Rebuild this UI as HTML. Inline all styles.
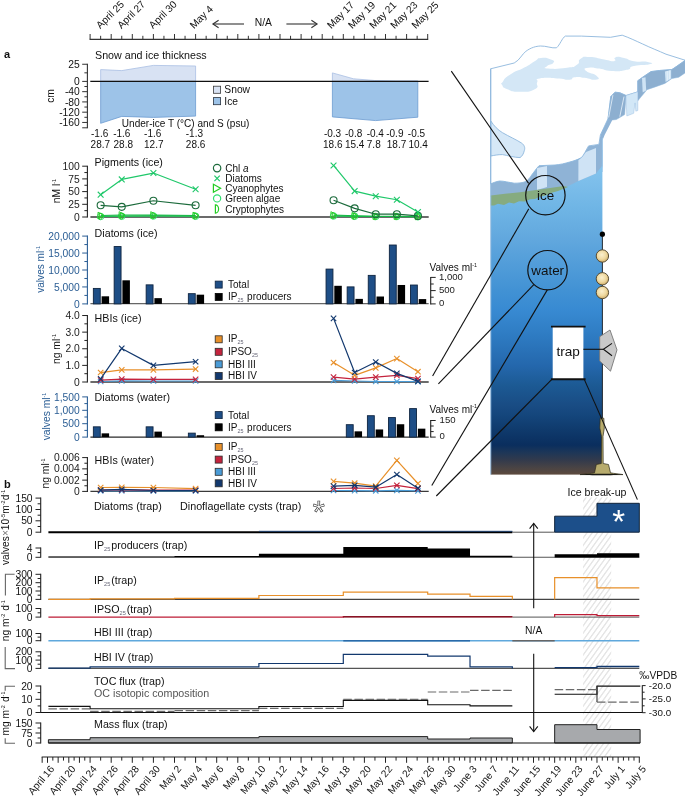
<!DOCTYPE html>
<html lang="en"><head><meta charset="utf-8"><title>Figure</title>
<style>
html,body{margin:0;padding:0;background:#fff;}
svg{display:block;font-family:"Liberation Sans",Arial,sans-serif;}
svg text{font-family:"Liberation Sans",Arial,sans-serif;}
</style></head><body>
<svg width="685" height="798" viewBox="0 0 685 798">
<rect x="0" y="0" width="685" height="798" fill="#ffffff"/>
<line x1="89.6" y1="39.4" x2="428.2" y2="39.4" stroke="#333" stroke-width="1.1" />
<line x1="90.1" y1="39.4" x2="90.1" y2="34" stroke="#333" stroke-width="1.0" />
<line x1="100.65" y1="39.4" x2="100.65" y2="35.8" stroke="#333" stroke-width="1.0" />
<line x1="111.2" y1="39.4" x2="111.2" y2="34" stroke="#333" stroke-width="1.0" />
<line x1="121.75" y1="39.4" x2="121.75" y2="35.8" stroke="#333" stroke-width="1.0" />
<line x1="132.3" y1="39.4" x2="132.3" y2="34" stroke="#333" stroke-width="1.0" />
<line x1="142.85" y1="39.4" x2="142.85" y2="35.8" stroke="#333" stroke-width="1.0" />
<line x1="153.4" y1="39.4" x2="153.4" y2="34" stroke="#333" stroke-width="1.0" />
<line x1="163.95" y1="39.4" x2="163.95" y2="35.8" stroke="#333" stroke-width="1.0" />
<line x1="174.5" y1="39.4" x2="174.5" y2="34" stroke="#333" stroke-width="1.0" />
<line x1="185.05" y1="39.4" x2="185.05" y2="35.8" stroke="#333" stroke-width="1.0" />
<line x1="195.6" y1="39.4" x2="195.6" y2="34" stroke="#333" stroke-width="1.0" />
<line x1="206.15" y1="39.4" x2="206.15" y2="35.8" stroke="#333" stroke-width="1.0" />
<line x1="216.7" y1="39.4" x2="216.7" y2="34" stroke="#333" stroke-width="1.0" />
<line x1="227.25" y1="39.4" x2="227.25" y2="35.8" stroke="#333" stroke-width="1.0" />
<line x1="237.8" y1="39.4" x2="237.8" y2="34" stroke="#333" stroke-width="1.0" />
<line x1="248.35" y1="39.4" x2="248.35" y2="35.8" stroke="#333" stroke-width="1.0" />
<line x1="258.9" y1="39.4" x2="258.9" y2="34" stroke="#333" stroke-width="1.0" />
<line x1="269.45" y1="39.4" x2="269.45" y2="35.8" stroke="#333" stroke-width="1.0" />
<line x1="280" y1="39.4" x2="280" y2="34" stroke="#333" stroke-width="1.0" />
<line x1="290.55" y1="39.4" x2="290.55" y2="35.8" stroke="#333" stroke-width="1.0" />
<line x1="301.1" y1="39.4" x2="301.1" y2="34" stroke="#333" stroke-width="1.0" />
<line x1="311.65" y1="39.4" x2="311.65" y2="35.8" stroke="#333" stroke-width="1.0" />
<line x1="322.2" y1="39.4" x2="322.2" y2="34" stroke="#333" stroke-width="1.0" />
<line x1="332.75" y1="39.4" x2="332.75" y2="35.8" stroke="#333" stroke-width="1.0" />
<line x1="343.3" y1="39.4" x2="343.3" y2="34" stroke="#333" stroke-width="1.0" />
<line x1="353.85" y1="39.4" x2="353.85" y2="35.8" stroke="#333" stroke-width="1.0" />
<line x1="364.4" y1="39.4" x2="364.4" y2="34" stroke="#333" stroke-width="1.0" />
<line x1="374.95" y1="39.4" x2="374.95" y2="35.8" stroke="#333" stroke-width="1.0" />
<line x1="385.5" y1="39.4" x2="385.5" y2="34" stroke="#333" stroke-width="1.0" />
<line x1="396.05" y1="39.4" x2="396.05" y2="35.8" stroke="#333" stroke-width="1.0" />
<line x1="406.6" y1="39.4" x2="406.6" y2="34" stroke="#333" stroke-width="1.0" />
<line x1="417.15" y1="39.4" x2="417.15" y2="35.8" stroke="#333" stroke-width="1.0" />
<line x1="427.7" y1="39.4" x2="427.7" y2="34" stroke="#333" stroke-width="1.0" />
<text transform="translate(100.35,29.3) rotate(-45)" font-size="10.2" text-anchor="start" fill="#111">April 25</text>
<text transform="translate(121.45,29.3) rotate(-45)" font-size="10.2" text-anchor="start" fill="#111">April 27</text>
<text transform="translate(153.1,29.3) rotate(-45)" font-size="10.2" text-anchor="start" fill="#111">April 30</text>
<text transform="translate(194.1,29.3) rotate(-45)" font-size="10.2" text-anchor="start" fill="#111">May 4</text>
<text transform="translate(331.25,29.3) rotate(-45)" font-size="10.2" text-anchor="start" fill="#111">May 17</text>
<text transform="translate(352.35,29.3) rotate(-45)" font-size="10.2" text-anchor="start" fill="#111">May 19</text>
<text transform="translate(373.45,29.3) rotate(-45)" font-size="10.2" text-anchor="start" fill="#111">May 21</text>
<text transform="translate(394.55,29.3) rotate(-45)" font-size="10.2" text-anchor="start" fill="#111">May 23</text>
<text transform="translate(415.65,29.3) rotate(-45)" font-size="10.2" text-anchor="start" fill="#111">May 25</text>
<text x="263.4" y="25.6" font-size="10.3" text-anchor="middle" fill="#111" >N/A</text>
<line x1="213" y1="24" x2="244" y2="24" stroke="#333" stroke-width="1.1" />
<polyline points="218.6,20.2 212.9,24 218.6,27.8" fill="none" stroke="#333" stroke-width="1.1" />
<line x1="286.4" y1="24" x2="317" y2="24" stroke="#333" stroke-width="1.1" />
<polyline points="311.4,20.2 317.1,24 311.4,27.8" fill="none" stroke="#333" stroke-width="1.1" />
<text x="4" y="58" font-size="11" text-anchor="start" fill="#111" font-weight="bold">a</text>
<text x="4" y="487.5" font-size="11" text-anchor="start" fill="#111" font-weight="bold">b</text>
<text x="95" y="58.6" font-size="10.7" text-anchor="start" fill="#111" >Snow and ice thickness</text>
<line x1="87.4" y1="63.75" x2="87.4" y2="128.3" stroke="#333" stroke-width="1.1" />
<line x1="87.4" y1="127.8" x2="82.2" y2="127.8" stroke="#333" stroke-width="1" />
<line x1="87.4" y1="64.25" x2="82.2" y2="64.25" stroke="#333" stroke-width="1" />
<line x1="87.4" y1="81.4" x2="82.2" y2="81.4" stroke="#333" stroke-width="1" />
<line x1="87.4" y1="91.66" x2="82.2" y2="91.66" stroke="#333" stroke-width="1" />
<line x1="87.4" y1="101.92" x2="82.2" y2="101.92" stroke="#333" stroke-width="1" />
<line x1="87.4" y1="112.18" x2="82.2" y2="112.18" stroke="#333" stroke-width="1" />
<line x1="87.4" y1="122.44" x2="82.2" y2="122.44" stroke="#333" stroke-width="1" />
<line x1="87.4" y1="72.83" x2="84.4" y2="72.83" stroke="#333" stroke-width="1" />
<line x1="87.4" y1="86.53" x2="84.4" y2="86.53" stroke="#333" stroke-width="1" />
<line x1="87.4" y1="96.79" x2="84.4" y2="96.79" stroke="#333" stroke-width="1" />
<line x1="87.4" y1="107.05" x2="84.4" y2="107.05" stroke="#333" stroke-width="1" />
<line x1="87.4" y1="117.31" x2="84.4" y2="117.31" stroke="#333" stroke-width="1" />
<text x="79.8" y="67.85" font-size="10.3" text-anchor="end" fill="#111" >25</text>
<text x="79.8" y="85" font-size="10.3" text-anchor="end" fill="#111" >0</text>
<text x="79.8" y="95.26" font-size="10.3" text-anchor="end" fill="#111" >-40</text>
<text x="79.8" y="105.52" font-size="10.3" text-anchor="end" fill="#111" >-80</text>
<text x="79.8" y="115.78" font-size="10.3" text-anchor="end" fill="#111" >-120</text>
<text x="79.8" y="126.04" font-size="10.3" text-anchor="end" fill="#111" >-160</text>
<text transform="translate(54.2,96) rotate(-90)" font-size="10.3" text-anchor="middle" fill="#111">cm</text>
<polygon points="100.65,81.4 100.65,69.6 121.75,70.6 153.4,65.4 195.6,66 195.6,81.4" fill="#d8e2f3" stroke="#a9bfe3" stroke-width="0.8" />
<polygon points="100.65,81.4 195.6,81.4 195.6,116.1 153.4,117.4 121.75,116.4 100.65,123.3" fill="#9dc3e8" stroke="#6b9bd1" stroke-width="0.8" />
<polygon points="332.4,81.4 332.4,72.9 353.5,78.8 374.8,80.5 395.9,80.9 417.8,80.9 417.8,81.4" fill="#d8e2f3" stroke="#a9bfe3" stroke-width="0.8" />
<polygon points="332.4,81.4 417.8,81.4 417.8,117.2 375.6,120.6 332.4,116.9" fill="#9dc3e8" stroke="#6b9bd1" stroke-width="0.8" />
<line x1="90.3" y1="81.4" x2="428.6" y2="81.4" stroke="#111" stroke-width="1.1" />
<rect x="213.5" y="86.2" width="7.1" height="7.1" fill="#d8e2f3" stroke="#3a3a3a" stroke-width="0.8"/>
<rect x="213.5" y="97.6" width="7.1" height="7.1" fill="#9dc3e8" stroke="#2a3340" stroke-width="0.8"/>
<text x="224.3" y="93.4" font-size="10.3" text-anchor="start" fill="#111" >Snow</text>
<text x="224.3" y="104.8" font-size="10.3" text-anchor="start" fill="#111" >Ice</text>
<text x="121.8" y="126.8" font-size="10.05" text-anchor="start" fill="#111" >Under-ice T (°C) and S (psu)</text>
<text x="99.65" y="137" font-size="10" text-anchor="middle" fill="#111" >-1.6</text>
<text x="100.35" y="148" font-size="10" text-anchor="middle" fill="#111" >28.7</text>
<text x="121.75" y="137" font-size="10" text-anchor="middle" fill="#111" >-1.6</text>
<text x="123.25" y="148" font-size="10" text-anchor="middle" fill="#111" >28.8</text>
<text x="152.7" y="137" font-size="10" text-anchor="middle" fill="#111" >-1.6</text>
<text x="153.8" y="148" font-size="10" text-anchor="middle" fill="#111" >12.7</text>
<text x="194.4" y="137" font-size="10" text-anchor="middle" fill="#111" >-1.3</text>
<text x="195.6" y="148" font-size="10" text-anchor="middle" fill="#111" >28.6</text>
<text x="332.55" y="137" font-size="10" text-anchor="middle" fill="#111" >-0.3</text>
<text x="332.75" y="148" font-size="10" text-anchor="middle" fill="#111" >18.6</text>
<text x="353.65" y="137" font-size="10" text-anchor="middle" fill="#111" >-0.8</text>
<text x="354.65" y="148" font-size="10" text-anchor="middle" fill="#111" >15.4</text>
<text x="375.25" y="137" font-size="10" text-anchor="middle" fill="#111" >-0.4</text>
<text x="373.75" y="148" font-size="10" text-anchor="middle" fill="#111" >7.8</text>
<text x="394.85" y="137" font-size="10" text-anchor="middle" fill="#111" >-0.9</text>
<text x="396.55" y="148" font-size="10" text-anchor="middle" fill="#111" >18.7</text>
<text x="416.45" y="137" font-size="10" text-anchor="middle" fill="#111" >-0.5</text>
<text x="418.15" y="148" font-size="10" text-anchor="middle" fill="#111" >10.4</text>
<text x="94.6" y="166.3" font-size="10.7" text-anchor="start" fill="#111" >Pigments (ice)</text>
<line x1="87.4" y1="165.7" x2="87.4" y2="217.5" stroke="#222" stroke-width="1.1" />
<line x1="87.4" y1="166.2" x2="82.2" y2="166.2" stroke="#222" stroke-width="1.0" />
<line x1="87.4" y1="178.9" x2="82.2" y2="178.9" stroke="#222" stroke-width="1.0" />
<line x1="87.4" y1="191.6" x2="82.2" y2="191.6" stroke="#222" stroke-width="1.0" />
<line x1="87.4" y1="204.3" x2="82.2" y2="204.3" stroke="#222" stroke-width="1.0" />
<line x1="87.4" y1="217" x2="82.2" y2="217" stroke="#222" stroke-width="1.0" />
<line x1="87.4" y1="172.55" x2="84.4" y2="172.55" stroke="#222" stroke-width="1.0" />
<line x1="87.4" y1="185.25" x2="84.4" y2="185.25" stroke="#222" stroke-width="1.0" />
<line x1="87.4" y1="197.95" x2="84.4" y2="197.95" stroke="#222" stroke-width="1.0" />
<line x1="87.4" y1="210.65" x2="84.4" y2="210.65" stroke="#222" stroke-width="1.0" />
<text x="79.8" y="169.8" font-size="10.3" text-anchor="end" fill="#222" >100</text>
<text x="79.8" y="182.5" font-size="10.3" text-anchor="end" fill="#222" >75</text>
<text x="79.8" y="195.2" font-size="10.3" text-anchor="end" fill="#222" >50</text>
<text x="79.8" y="207.9" font-size="10.3" text-anchor="end" fill="#222" >25</text>
<text x="79.8" y="220.6" font-size="10.3" text-anchor="end" fill="#222" >0</text>
<text transform="translate(60.2,191) rotate(-90)" font-size="10.3" text-anchor="middle" fill="#111">nM l<tspan dy="-4.2" font-size="5.4">-1</tspan></text>
<line x1="90.4" y1="217" x2="428.7" y2="217" stroke="#3a3a3a" stroke-width="1.4" />
<polyline points="100.65,216.49 121.75,216.24 153.4,215.98 195.6,216.24" fill="none" stroke="#30e070" stroke-width="1.1" stroke-linejoin="round"/>
<circle cx="100.65" cy="216.49" r="3.3" fill="none" stroke="#30e070" stroke-width="0.9"/>
<circle cx="121.75" cy="216.24" r="3.3" fill="none" stroke="#30e070" stroke-width="0.9"/>
<circle cx="153.4" cy="215.98" r="3.3" fill="none" stroke="#30e070" stroke-width="0.9"/>
<circle cx="195.6" cy="216.24" r="3.3" fill="none" stroke="#30e070" stroke-width="0.9"/>
<polyline points="100.65,216.24 121.75,215.98 153.4,215.73 195.6,215.98" fill="none" stroke="#14b845" stroke-width="1.1" stroke-linejoin="round"/>
<path d="M99.45,213.04 A3.2,3.2 0 0 1 99.45,219.44 Z" fill="none" stroke="#22cc22" stroke-width="0.9" />
<path d="M120.55,212.78 A3.2,3.2 0 0 1 120.55,219.18 Z" fill="none" stroke="#22cc22" stroke-width="0.9" />
<path d="M152.2,212.53 A3.2,3.2 0 0 1 152.2,218.93 Z" fill="none" stroke="#22cc22" stroke-width="0.9" />
<path d="M194.4,212.78 A3.2,3.2 0 0 1 194.4,219.18 Z" fill="none" stroke="#22cc22" stroke-width="0.9" />
<polyline points="100.65,215.48 121.75,214.97 153.4,214.97 195.6,215.48" fill="none" stroke="#14b845" stroke-width="1.1" stroke-linejoin="round"/>
<polygon points="98.01,212.18 103.95,215.48 98.01,218.78" fill="none" stroke="#22cc22" stroke-width="0.9" />
<polygon points="119.11,211.67 125.05,214.97 119.11,218.27" fill="none" stroke="#22cc22" stroke-width="0.9" />
<polygon points="150.76,211.67 156.7,214.97 150.76,218.27" fill="none" stroke="#22cc22" stroke-width="0.9" />
<polygon points="192.96,212.18 198.9,215.48 192.96,218.78" fill="none" stroke="#22cc22" stroke-width="0.9" />
<polyline points="333.55,215.98 354.65,216.24 375.75,216.49 396.85,216.49 417.95,216.75" fill="none" stroke="#30e070" stroke-width="1.1" stroke-linejoin="round"/>
<circle cx="333.55" cy="215.98" r="3.3" fill="none" stroke="#30e070" stroke-width="0.9"/>
<circle cx="354.65" cy="216.24" r="3.3" fill="none" stroke="#30e070" stroke-width="0.9"/>
<circle cx="375.75" cy="216.49" r="3.3" fill="none" stroke="#30e070" stroke-width="0.9"/>
<circle cx="396.85" cy="216.49" r="3.3" fill="none" stroke="#30e070" stroke-width="0.9"/>
<circle cx="417.95" cy="216.75" r="3.3" fill="none" stroke="#30e070" stroke-width="0.9"/>
<polyline points="333.55,215.73 354.65,216.24 375.75,216.49 396.85,216.49 417.95,216.59" fill="none" stroke="#14b845" stroke-width="1.1" stroke-linejoin="round"/>
<path d="M332.35,212.53 A3.2,3.2 0 0 1 332.35,218.93 Z" fill="none" stroke="#22cc22" stroke-width="0.9" />
<path d="M353.45,213.04 A3.2,3.2 0 0 1 353.45,219.44 Z" fill="none" stroke="#22cc22" stroke-width="0.9" />
<path d="M374.55,213.29 A3.2,3.2 0 0 1 374.55,219.69 Z" fill="none" stroke="#22cc22" stroke-width="0.9" />
<path d="M395.65,213.29 A3.2,3.2 0 0 1 395.65,219.69 Z" fill="none" stroke="#22cc22" stroke-width="0.9" />
<path d="M416.75,213.39 A3.2,3.2 0 0 1 416.75,219.79 Z" fill="none" stroke="#22cc22" stroke-width="0.9" />
<polyline points="333.55,214.97 354.65,215.73 375.75,216.24 396.85,216.24 417.95,216.49" fill="none" stroke="#14b845" stroke-width="1.1" stroke-linejoin="round"/>
<polygon points="330.91,211.67 336.85,214.97 330.91,218.27" fill="none" stroke="#22cc22" stroke-width="0.9" />
<polygon points="352.01,212.43 357.95,215.73 352.01,219.03" fill="none" stroke="#22cc22" stroke-width="0.9" />
<polygon points="373.11,212.94 379.05,216.24 373.11,219.54" fill="none" stroke="#22cc22" stroke-width="0.9" />
<polygon points="394.21,212.94 400.15,216.24 394.21,219.54" fill="none" stroke="#22cc22" stroke-width="0.9" />
<polygon points="415.31,213.19 421.25,216.49 415.31,219.79" fill="none" stroke="#22cc22" stroke-width="0.9" />
<polyline points="100.65,205.32 121.75,206.84 153.4,200.74 195.6,205.32" fill="none" stroke="#1c6b3c" stroke-width="1.2" stroke-linejoin="round"/>
<circle cx="100.65" cy="205.32" r="3.5" fill="none" stroke="#1c6b3c" stroke-width="1.1"/>
<circle cx="121.75" cy="206.84" r="3.5" fill="none" stroke="#1c6b3c" stroke-width="1.1"/>
<circle cx="153.4" cy="200.74" r="3.5" fill="none" stroke="#1c6b3c" stroke-width="1.1"/>
<circle cx="195.6" cy="205.32" r="3.5" fill="none" stroke="#1c6b3c" stroke-width="1.1"/>
<polyline points="333.55,200.24 354.65,208.36 375.75,214.21 396.85,214.21 417.95,215.88" fill="none" stroke="#1c6b3c" stroke-width="1.2" stroke-linejoin="round"/>
<circle cx="333.55" cy="200.24" r="3.5" fill="none" stroke="#1c6b3c" stroke-width="1.1"/>
<circle cx="354.65" cy="208.36" r="3.5" fill="none" stroke="#1c6b3c" stroke-width="1.1"/>
<circle cx="375.75" cy="214.21" r="3.5" fill="none" stroke="#1c6b3c" stroke-width="1.1"/>
<circle cx="396.85" cy="214.21" r="3.5" fill="none" stroke="#1c6b3c" stroke-width="1.1"/>
<circle cx="417.95" cy="215.88" r="3.5" fill="none" stroke="#1c6b3c" stroke-width="1.1"/>
<polyline points="100.65,194.65 121.75,179.41 153.4,173.06 195.6,189.31" fill="none" stroke="#1fc86a" stroke-width="1.2" stroke-linejoin="round"/>
<line x1="97.75" y1="191.75" x2="103.55" y2="197.55" stroke="#1fc86a" stroke-width="1.1" />
<line x1="97.75" y1="197.55" x2="103.55" y2="191.75" stroke="#1fc86a" stroke-width="1.1" />
<line x1="118.85" y1="176.51" x2="124.65" y2="182.31" stroke="#1fc86a" stroke-width="1.1" />
<line x1="118.85" y1="182.31" x2="124.65" y2="176.51" stroke="#1fc86a" stroke-width="1.1" />
<line x1="150.5" y1="170.16" x2="156.3" y2="175.96" stroke="#1fc86a" stroke-width="1.1" />
<line x1="150.5" y1="175.96" x2="156.3" y2="170.16" stroke="#1fc86a" stroke-width="1.1" />
<line x1="192.7" y1="186.41" x2="198.5" y2="192.21" stroke="#1fc86a" stroke-width="1.1" />
<line x1="192.7" y1="192.21" x2="198.5" y2="186.41" stroke="#1fc86a" stroke-width="1.1" />
<polyline points="333.55,165.44 354.65,191.09 375.75,196.17 396.85,199.73 417.95,211.92" fill="none" stroke="#1fc86a" stroke-width="1.2" stroke-linejoin="round"/>
<line x1="330.65" y1="162.54" x2="336.45" y2="168.34" stroke="#1fc86a" stroke-width="1.1" />
<line x1="330.65" y1="168.34" x2="336.45" y2="162.54" stroke="#1fc86a" stroke-width="1.1" />
<line x1="351.75" y1="188.19" x2="357.55" y2="193.99" stroke="#1fc86a" stroke-width="1.1" />
<line x1="351.75" y1="193.99" x2="357.55" y2="188.19" stroke="#1fc86a" stroke-width="1.1" />
<line x1="372.85" y1="193.27" x2="378.65" y2="199.07" stroke="#1fc86a" stroke-width="1.1" />
<line x1="372.85" y1="199.07" x2="378.65" y2="193.27" stroke="#1fc86a" stroke-width="1.1" />
<line x1="393.95" y1="196.83" x2="399.75" y2="202.63" stroke="#1fc86a" stroke-width="1.1" />
<line x1="393.95" y1="202.63" x2="399.75" y2="196.83" stroke="#1fc86a" stroke-width="1.1" />
<line x1="415.05" y1="209.02" x2="420.85" y2="214.82" stroke="#1fc86a" stroke-width="1.1" />
<line x1="415.05" y1="214.82" x2="420.85" y2="209.02" stroke="#1fc86a" stroke-width="1.1" />
<circle cx="217.1" cy="168.1" r="3.7" fill="none" stroke="#1c6b3c" stroke-width="1.2"/>
<line x1="214.4" y1="175.7" x2="219.8" y2="181.1" stroke="#1fc86a" stroke-width="1.2" />
<line x1="214.4" y1="181.1" x2="219.8" y2="175.7" stroke="#1fc86a" stroke-width="1.2" />
<polygon points="213.4,184.3 220.6,188.3 213.4,192.3" fill="none" stroke="#22cc22" stroke-width="1.2" />
<circle cx="217.1" cy="198.4" r="3.6" fill="none" stroke="#30e070" stroke-width="1.2"/>
<path d="M215.4,204.8 A3.2,4.2 0 0 1 215.4,213.2 Z" fill="none" stroke="#22cc22" stroke-width="1.2" />
<text x="225.2" y="171.7" font-size="10" text-anchor="start" fill="#111" >Chl <tspan font-style="italic">a</tspan></text>
<text x="225.2" y="182" font-size="10" text-anchor="start" fill="#111" >Diatoms</text>
<text x="225.2" y="191.9" font-size="10" text-anchor="start" fill="#111" >Cyanophytes</text>
<text x="225.2" y="202" font-size="10" text-anchor="start" fill="#111" >Green algae</text>
<text x="225.2" y="212.6" font-size="10" text-anchor="start" fill="#111" >Cryptophytes</text>
<text x="94.6" y="236.9" font-size="10.7" text-anchor="start" fill="#111" >Diatoms (ice)</text>
<line x1="87.4" y1="235.6" x2="87.4" y2="304.4" stroke="#2a5d94" stroke-width="1.1" />
<line x1="87.4" y1="236.1" x2="82.2" y2="236.1" stroke="#2a5d94" stroke-width="1.0" />
<line x1="87.4" y1="253.05" x2="82.2" y2="253.05" stroke="#2a5d94" stroke-width="1.0" />
<line x1="87.4" y1="270" x2="82.2" y2="270" stroke="#2a5d94" stroke-width="1.0" />
<line x1="87.4" y1="286.95" x2="82.2" y2="286.95" stroke="#2a5d94" stroke-width="1.0" />
<line x1="87.4" y1="303.9" x2="82.2" y2="303.9" stroke="#2a5d94" stroke-width="1.0" />
<line x1="87.4" y1="244.57" x2="84.4" y2="244.57" stroke="#2a5d94" stroke-width="1.0" />
<line x1="87.4" y1="261.52" x2="84.4" y2="261.52" stroke="#2a5d94" stroke-width="1.0" />
<line x1="87.4" y1="278.47" x2="84.4" y2="278.47" stroke="#2a5d94" stroke-width="1.0" />
<line x1="87.4" y1="295.42" x2="84.4" y2="295.42" stroke="#2a5d94" stroke-width="1.0" />
<text x="79.8" y="239.7" font-size="10.3" text-anchor="end" fill="#2a5d94" >20,000</text>
<text x="79.8" y="256.65" font-size="10.3" text-anchor="end" fill="#2a5d94" >15,000</text>
<text x="79.8" y="273.6" font-size="10.3" text-anchor="end" fill="#2a5d94" >10,000</text>
<text x="79.8" y="290.55" font-size="10.3" text-anchor="end" fill="#2a5d94" >5,000</text>
<text x="79.8" y="307.5" font-size="10.3" text-anchor="end" fill="#2a5d94" >0</text>
<text transform="translate(44.4,292.8) rotate(-90)" font-size="10.1" text-anchor="start" fill="#2a5d94">valves ml<tspan dy="-4.2" font-size="5.4">-1</tspan></text>
<line x1="90.4" y1="303.6" x2="428.7" y2="303.6" stroke="#666" stroke-width="1.2" />
<rect x="93.35" y="288.42" width="6.9" height="15.48" fill="#1e4e86" stroke="#0e2440" stroke-width="0.9"/>
<rect x="101.6" y="296.31" width="7.5" height="7.59" fill="#000" stroke="none" stroke-width="1"/>
<rect x="114.15" y="246.55" width="6.9" height="57.35" fill="#1e4e86" stroke="#0e2440" stroke-width="0.9"/>
<rect x="122.4" y="280.31" width="7.5" height="23.59" fill="#000" stroke="none" stroke-width="1"/>
<rect x="146.15" y="284.86" width="6.9" height="19.04" fill="#1e4e86" stroke="#0e2440" stroke-width="0.9"/>
<rect x="154.4" y="298.14" width="7.5" height="5.76" fill="#000" stroke="none" stroke-width="1"/>
<rect x="188.35" y="293.67" width="6.9" height="10.23" fill="#1e4e86" stroke="#0e2440" stroke-width="0.9"/>
<rect x="196.6" y="294.68" width="7.5" height="9.22" fill="#000" stroke="none" stroke-width="1"/>
<rect x="326.05" y="269.09" width="6.9" height="34.81" fill="#1e4e86" stroke="#0e2440" stroke-width="0.9"/>
<rect x="334.3" y="285.8" width="7.5" height="18.1" fill="#000" stroke="none" stroke-width="1"/>
<rect x="347.15" y="286.89" width="6.9" height="17.01" fill="#1e4e86" stroke="#0e2440" stroke-width="0.9"/>
<rect x="355.4" y="298.88" width="7.5" height="5.02" fill="#000" stroke="none" stroke-width="1"/>
<rect x="368.25" y="275.37" width="6.9" height="28.53" fill="#1e4e86" stroke="#0e2440" stroke-width="0.9"/>
<rect x="376.5" y="296.51" width="7.5" height="7.39" fill="#000" stroke="none" stroke-width="1"/>
<rect x="389.35" y="245.02" width="6.9" height="58.87" fill="#1e4e86" stroke="#0e2440" stroke-width="0.9"/>
<rect x="397.6" y="284.98" width="7.5" height="18.92" fill="#000" stroke="none" stroke-width="1"/>
<rect x="410.45" y="285.03" width="6.9" height="18.87" fill="#1e4e86" stroke="#0e2440" stroke-width="0.9"/>
<rect x="418.7" y="299.09" width="7.5" height="4.81" fill="#000" stroke="none" stroke-width="1"/>
<rect x="215.2" y="281.1" width="7" height="7" fill="#1e4e86" stroke="#0e2440" stroke-width="0.8"/>
<rect x="215.2" y="293.4" width="7" height="7" fill="#000" stroke="#000" stroke-width="0.8"/>
<text x="228" y="288" font-size="10" text-anchor="start" fill="#111" >Total</text>
<text x="228" y="300.4" font-size="10" fill="#111">IP<tspan dy="2" font-size="5.4" fill="#667">25</tspan><tspan dy="-2" font-size="3"> </tspan> producers</text>
<text x="429.6" y="271.4" font-size="10" fill="#111">Valves ml<tspan dy="-4.2" font-size="5.4">-1</tspan></text>
<line x1="430.7" y1="276.9" x2="430.7" y2="304.4" stroke="#222" stroke-width="1.1" />
<line x1="430.7" y1="277.4" x2="435.7" y2="277.4" stroke="#222" stroke-width="1.0" />
<line x1="430.7" y1="290.6" x2="435.7" y2="290.6" stroke="#222" stroke-width="1.0" />
<line x1="430.7" y1="303.9" x2="435.7" y2="303.9" stroke="#222" stroke-width="1.0" />
<line x1="430.7" y1="284" x2="433.7" y2="284" stroke="#222" stroke-width="1.0" />
<line x1="430.7" y1="297.2" x2="433.7" y2="297.2" stroke="#222" stroke-width="1.0" />
<text x="438.9" y="280.1" font-size="9.6" text-anchor="start" fill="#222" >1,000</text>
<text x="438.9" y="293.1" font-size="9.6" text-anchor="start" fill="#222" >500</text>
<text x="438.9" y="306.4" font-size="9.6" text-anchor="start" fill="#222" >0</text>
<text x="94.6" y="322.2" font-size="10.7" text-anchor="start" fill="#111" >HBIs (ice)</text>
<line x1="87.4" y1="315.02" x2="87.4" y2="382.5" stroke="#222" stroke-width="1.1" />
<line x1="87.4" y1="315.52" x2="82.2" y2="315.52" stroke="#222" stroke-width="1.0" />
<line x1="87.4" y1="332.14" x2="82.2" y2="332.14" stroke="#222" stroke-width="1.0" />
<line x1="87.4" y1="348.76" x2="82.2" y2="348.76" stroke="#222" stroke-width="1.0" />
<line x1="87.4" y1="365.38" x2="82.2" y2="365.38" stroke="#222" stroke-width="1.0" />
<line x1="87.4" y1="382" x2="82.2" y2="382" stroke="#222" stroke-width="1.0" />
<line x1="87.4" y1="323.83" x2="84.4" y2="323.83" stroke="#222" stroke-width="1.0" />
<line x1="87.4" y1="340.45" x2="84.4" y2="340.45" stroke="#222" stroke-width="1.0" />
<line x1="87.4" y1="357.07" x2="84.4" y2="357.07" stroke="#222" stroke-width="1.0" />
<line x1="87.4" y1="373.69" x2="84.4" y2="373.69" stroke="#222" stroke-width="1.0" />
<text x="79.8" y="319.12" font-size="10.3" text-anchor="end" fill="#222" >4.0</text>
<text x="79.8" y="335.74" font-size="10.3" text-anchor="end" fill="#222" >3.0</text>
<text x="79.8" y="352.36" font-size="10.3" text-anchor="end" fill="#222" >2.0</text>
<text x="79.8" y="368.98" font-size="10.3" text-anchor="end" fill="#222" >1.0</text>
<text x="79.8" y="385.6" font-size="10.3" text-anchor="end" fill="#222" >0</text>
<text transform="translate(60.2,349) rotate(-90)" font-size="10.3" text-anchor="middle" fill="#111">ng ml<tspan dy="-4.2" font-size="5.4">-1</tspan></text>
<line x1="90.4" y1="382" x2="428.7" y2="382" stroke="#3a3a3a" stroke-width="1.4" />
<polyline points="100.65,381.5 121.75,380.84 153.4,381 195.6,381" fill="none" stroke="#4a9bd6" stroke-width="1.2" stroke-linejoin="round"/>
<line x1="97.95" y1="378.8" x2="103.35" y2="384.2" stroke="#4a9bd6" stroke-width="1.1" />
<line x1="97.95" y1="384.2" x2="103.35" y2="378.8" stroke="#4a9bd6" stroke-width="1.1" />
<line x1="119.05" y1="378.14" x2="124.45" y2="383.54" stroke="#4a9bd6" stroke-width="1.1" />
<line x1="119.05" y1="383.54" x2="124.45" y2="378.14" stroke="#4a9bd6" stroke-width="1.1" />
<line x1="150.7" y1="378.3" x2="156.1" y2="383.7" stroke="#4a9bd6" stroke-width="1.1" />
<line x1="150.7" y1="383.7" x2="156.1" y2="378.3" stroke="#4a9bd6" stroke-width="1.1" />
<line x1="192.9" y1="378.3" x2="198.3" y2="383.7" stroke="#4a9bd6" stroke-width="1.1" />
<line x1="192.9" y1="383.7" x2="198.3" y2="378.3" stroke="#4a9bd6" stroke-width="1.1" />
<polyline points="333.55,380.34 354.65,381 375.75,381.5 396.85,381.5 417.95,381.67" fill="none" stroke="#4a9bd6" stroke-width="1.2" stroke-linejoin="round"/>
<line x1="330.85" y1="377.64" x2="336.25" y2="383.04" stroke="#4a9bd6" stroke-width="1.1" />
<line x1="330.85" y1="383.04" x2="336.25" y2="377.64" stroke="#4a9bd6" stroke-width="1.1" />
<line x1="351.95" y1="378.3" x2="357.35" y2="383.7" stroke="#4a9bd6" stroke-width="1.1" />
<line x1="351.95" y1="383.7" x2="357.35" y2="378.3" stroke="#4a9bd6" stroke-width="1.1" />
<line x1="373.05" y1="378.8" x2="378.45" y2="384.2" stroke="#4a9bd6" stroke-width="1.1" />
<line x1="373.05" y1="384.2" x2="378.45" y2="378.8" stroke="#4a9bd6" stroke-width="1.1" />
<line x1="394.15" y1="378.8" x2="399.55" y2="384.2" stroke="#4a9bd6" stroke-width="1.1" />
<line x1="394.15" y1="384.2" x2="399.55" y2="378.8" stroke="#4a9bd6" stroke-width="1.1" />
<line x1="415.25" y1="378.97" x2="420.65" y2="384.37" stroke="#4a9bd6" stroke-width="1.1" />
<line x1="415.25" y1="384.37" x2="420.65" y2="378.97" stroke="#4a9bd6" stroke-width="1.1" />
<polyline points="100.65,380.17 121.75,379.17 153.4,379.34 195.6,379.34" fill="none" stroke="#c4233d" stroke-width="1.2" stroke-linejoin="round"/>
<line x1="97.95" y1="377.47" x2="103.35" y2="382.87" stroke="#c4233d" stroke-width="1.1" />
<line x1="97.95" y1="382.87" x2="103.35" y2="377.47" stroke="#c4233d" stroke-width="1.1" />
<line x1="119.05" y1="376.47" x2="124.45" y2="381.87" stroke="#c4233d" stroke-width="1.1" />
<line x1="119.05" y1="381.87" x2="124.45" y2="376.47" stroke="#c4233d" stroke-width="1.1" />
<line x1="150.7" y1="376.64" x2="156.1" y2="382.04" stroke="#c4233d" stroke-width="1.1" />
<line x1="150.7" y1="382.04" x2="156.1" y2="376.64" stroke="#c4233d" stroke-width="1.1" />
<line x1="192.9" y1="376.64" x2="198.3" y2="382.04" stroke="#c4233d" stroke-width="1.1" />
<line x1="192.9" y1="382.04" x2="198.3" y2="376.64" stroke="#c4233d" stroke-width="1.1" />
<polyline points="333.55,377.18 354.65,379.17 375.75,377.18 396.85,375.35 417.95,378.68" fill="none" stroke="#c4233d" stroke-width="1.2" stroke-linejoin="round"/>
<line x1="330.85" y1="374.48" x2="336.25" y2="379.88" stroke="#c4233d" stroke-width="1.1" />
<line x1="330.85" y1="379.88" x2="336.25" y2="374.48" stroke="#c4233d" stroke-width="1.1" />
<line x1="351.95" y1="376.47" x2="357.35" y2="381.87" stroke="#c4233d" stroke-width="1.1" />
<line x1="351.95" y1="381.87" x2="357.35" y2="376.47" stroke="#c4233d" stroke-width="1.1" />
<line x1="373.05" y1="374.48" x2="378.45" y2="379.88" stroke="#c4233d" stroke-width="1.1" />
<line x1="373.05" y1="379.88" x2="378.45" y2="374.48" stroke="#c4233d" stroke-width="1.1" />
<line x1="394.15" y1="372.65" x2="399.55" y2="378.05" stroke="#c4233d" stroke-width="1.1" />
<line x1="394.15" y1="378.05" x2="399.55" y2="372.65" stroke="#c4233d" stroke-width="1.1" />
<line x1="415.25" y1="375.98" x2="420.65" y2="381.38" stroke="#c4233d" stroke-width="1.1" />
<line x1="415.25" y1="381.38" x2="420.65" y2="375.98" stroke="#c4233d" stroke-width="1.1" />
<polyline points="100.65,372.53 121.75,369.87 153.4,369.87 195.6,369.04" fill="none" stroke="#e8902a" stroke-width="1.2" stroke-linejoin="round"/>
<line x1="97.95" y1="369.83" x2="103.35" y2="375.23" stroke="#e8902a" stroke-width="1.1" />
<line x1="97.95" y1="375.23" x2="103.35" y2="369.83" stroke="#e8902a" stroke-width="1.1" />
<line x1="119.05" y1="367.17" x2="124.45" y2="372.57" stroke="#e8902a" stroke-width="1.1" />
<line x1="119.05" y1="372.57" x2="124.45" y2="367.17" stroke="#e8902a" stroke-width="1.1" />
<line x1="150.7" y1="367.17" x2="156.1" y2="372.57" stroke="#e8902a" stroke-width="1.1" />
<line x1="150.7" y1="372.57" x2="156.1" y2="367.17" stroke="#e8902a" stroke-width="1.1" />
<line x1="192.9" y1="366.34" x2="198.3" y2="371.74" stroke="#e8902a" stroke-width="1.1" />
<line x1="192.9" y1="371.74" x2="198.3" y2="366.34" stroke="#e8902a" stroke-width="1.1" />
<polyline points="333.55,362.55 354.65,375.35 375.75,367.87 396.85,358.57 417.95,371.7" fill="none" stroke="#e8902a" stroke-width="1.2" stroke-linejoin="round"/>
<line x1="330.85" y1="359.85" x2="336.25" y2="365.25" stroke="#e8902a" stroke-width="1.1" />
<line x1="330.85" y1="365.25" x2="336.25" y2="359.85" stroke="#e8902a" stroke-width="1.1" />
<line x1="351.95" y1="372.65" x2="357.35" y2="378.05" stroke="#e8902a" stroke-width="1.1" />
<line x1="351.95" y1="378.05" x2="357.35" y2="372.65" stroke="#e8902a" stroke-width="1.1" />
<line x1="373.05" y1="365.17" x2="378.45" y2="370.57" stroke="#e8902a" stroke-width="1.1" />
<line x1="373.05" y1="370.57" x2="378.45" y2="365.17" stroke="#e8902a" stroke-width="1.1" />
<line x1="394.15" y1="355.87" x2="399.55" y2="361.27" stroke="#e8902a" stroke-width="1.1" />
<line x1="394.15" y1="361.27" x2="399.55" y2="355.87" stroke="#e8902a" stroke-width="1.1" />
<line x1="415.25" y1="369" x2="420.65" y2="374.4" stroke="#e8902a" stroke-width="1.1" />
<line x1="415.25" y1="374.4" x2="420.65" y2="369" stroke="#e8902a" stroke-width="1.1" />
<polyline points="100.65,378.84 121.75,348.43 153.4,365.38 195.6,361.72" fill="none" stroke="#12386e" stroke-width="1.2" stroke-linejoin="round"/>
<line x1="97.95" y1="376.14" x2="103.35" y2="381.54" stroke="#12386e" stroke-width="1.1" />
<line x1="97.95" y1="381.54" x2="103.35" y2="376.14" stroke="#12386e" stroke-width="1.1" />
<line x1="119.05" y1="345.73" x2="124.45" y2="351.13" stroke="#12386e" stroke-width="1.1" />
<line x1="119.05" y1="351.13" x2="124.45" y2="345.73" stroke="#12386e" stroke-width="1.1" />
<line x1="150.7" y1="362.68" x2="156.1" y2="368.08" stroke="#12386e" stroke-width="1.1" />
<line x1="150.7" y1="368.08" x2="156.1" y2="362.68" stroke="#12386e" stroke-width="1.1" />
<line x1="192.9" y1="359.02" x2="198.3" y2="364.42" stroke="#12386e" stroke-width="1.1" />
<line x1="192.9" y1="364.42" x2="198.3" y2="359.02" stroke="#12386e" stroke-width="1.1" />
<polyline points="333.55,318.35 354.65,372.53 375.75,362.06 396.85,373.36 417.95,381.34" fill="none" stroke="#12386e" stroke-width="1.2" stroke-linejoin="round"/>
<line x1="330.85" y1="315.65" x2="336.25" y2="321.05" stroke="#12386e" stroke-width="1.1" />
<line x1="330.85" y1="321.05" x2="336.25" y2="315.65" stroke="#12386e" stroke-width="1.1" />
<line x1="351.95" y1="369.83" x2="357.35" y2="375.23" stroke="#12386e" stroke-width="1.1" />
<line x1="351.95" y1="375.23" x2="357.35" y2="369.83" stroke="#12386e" stroke-width="1.1" />
<line x1="373.05" y1="359.36" x2="378.45" y2="364.76" stroke="#12386e" stroke-width="1.1" />
<line x1="373.05" y1="364.76" x2="378.45" y2="359.36" stroke="#12386e" stroke-width="1.1" />
<line x1="394.15" y1="370.66" x2="399.55" y2="376.06" stroke="#12386e" stroke-width="1.1" />
<line x1="394.15" y1="376.06" x2="399.55" y2="370.66" stroke="#12386e" stroke-width="1.1" />
<line x1="415.25" y1="378.64" x2="420.65" y2="384.04" stroke="#12386e" stroke-width="1.1" />
<line x1="415.25" y1="384.04" x2="420.65" y2="378.64" stroke="#12386e" stroke-width="1.1" />
<rect x="215.2" y="335.8" width="7" height="7" fill="#e8902a" stroke="#2a2a2a" stroke-width="0.8"/>
<rect x="215.2" y="348.3" width="7" height="7" fill="#c4233d" stroke="#2a2a2a" stroke-width="0.8"/>
<rect x="215.2" y="360.8" width="7" height="7" fill="#4a9bd6" stroke="#2a2a2a" stroke-width="0.8"/>
<rect x="215.2" y="372.5" width="7" height="7" fill="#12386e" stroke="#2a2a2a" stroke-width="0.8"/>
<text x="228" y="342.4" font-size="10" fill="#111">IP<tspan dy="2" font-size="5.4" fill="#667">25</tspan><tspan dy="-2" font-size="3"> </tspan></text>
<text x="228" y="354.9" font-size="10" fill="#111">IPSO<tspan dy="2" font-size="5.4" fill="#667">25</tspan><tspan dy="-2" font-size="3"> </tspan></text>
<text x="228" y="367.6" font-size="10" text-anchor="start" fill="#111" >HBI III</text>
<text x="228" y="379.3" font-size="10" text-anchor="start" fill="#111" >HBI IV</text>
<text x="94.6" y="401.4" font-size="10.7" text-anchor="start" fill="#111" >Diatoms (water)</text>
<line x1="87.4" y1="396.4" x2="87.4" y2="437.6" stroke="#2a5d94" stroke-width="1.1" />
<line x1="87.4" y1="396.9" x2="82.2" y2="396.9" stroke="#2a5d94" stroke-width="1.0" />
<line x1="87.4" y1="410.3" x2="82.2" y2="410.3" stroke="#2a5d94" stroke-width="1.0" />
<line x1="87.4" y1="423.7" x2="82.2" y2="423.7" stroke="#2a5d94" stroke-width="1.0" />
<line x1="87.4" y1="437.1" x2="82.2" y2="437.1" stroke="#2a5d94" stroke-width="1.0" />
<line x1="87.4" y1="403.6" x2="84.4" y2="403.6" stroke="#2a5d94" stroke-width="1.0" />
<line x1="87.4" y1="417" x2="84.4" y2="417" stroke="#2a5d94" stroke-width="1.0" />
<line x1="87.4" y1="430.4" x2="84.4" y2="430.4" stroke="#2a5d94" stroke-width="1.0" />
<text x="79.8" y="400.5" font-size="10.3" text-anchor="end" fill="#2a5d94" >1,500</text>
<text x="79.8" y="413.9" font-size="10.3" text-anchor="end" fill="#2a5d94" >1,000</text>
<text x="79.8" y="427.3" font-size="10.3" text-anchor="end" fill="#2a5d94" >500</text>
<text x="79.8" y="440.7" font-size="10.3" text-anchor="end" fill="#2a5d94" >0</text>
<text transform="translate(50.2,416.5) rotate(-90)" font-size="10.3" text-anchor="middle" fill="#2a5d94">valves ml<tspan dy="-4.2" font-size="5.4">-1</tspan></text>
<line x1="90.4" y1="437.1" x2="428.7" y2="437.1" stroke="#2a2a2a" stroke-width="1.4" />
<rect x="93.35" y="426.83" width="6.9" height="10.27" fill="#1e4e86" stroke="#0e2440" stroke-width="0.9"/>
<rect x="101.6" y="433.35" width="7.5" height="3.75" fill="#000" stroke="none" stroke-width="1"/>
<rect x="146.15" y="426.83" width="6.9" height="10.27" fill="#1e4e86" stroke="#0e2440" stroke-width="0.9"/>
<rect x="154.4" y="431.61" width="7.5" height="5.49" fill="#000" stroke="none" stroke-width="1"/>
<rect x="188.35" y="433.13" width="6.9" height="3.97" fill="#1e4e86" stroke="#0e2440" stroke-width="0.9"/>
<rect x="196.6" y="435.22" width="7.5" height="1.88" fill="#000" stroke="none" stroke-width="1"/>
<rect x="346.3" y="424.69" width="6.9" height="12.41" fill="#1e4e86" stroke="#0e2440" stroke-width="0.9"/>
<rect x="354.55" y="431.34" width="7.5" height="5.76" fill="#000" stroke="none" stroke-width="1"/>
<rect x="367.4" y="415.71" width="6.9" height="21.39" fill="#1e4e86" stroke="#0e2440" stroke-width="0.9"/>
<rect x="375.65" y="429.46" width="7.5" height="7.64" fill="#000" stroke="none" stroke-width="1"/>
<rect x="388.5" y="417.58" width="6.9" height="19.52" fill="#1e4e86" stroke="#0e2440" stroke-width="0.9"/>
<rect x="396.75" y="424.24" width="7.5" height="12.86" fill="#000" stroke="none" stroke-width="1"/>
<rect x="409.6" y="408.61" width="6.9" height="28.49" fill="#1e4e86" stroke="#0e2440" stroke-width="0.9"/>
<rect x="417.85" y="428.66" width="7.5" height="8.44" fill="#000" stroke="none" stroke-width="1"/>
<rect x="215.2" y="411.6" width="7" height="7" fill="#1e4e86" stroke="#0e2440" stroke-width="0.8"/>
<rect x="215.2" y="423.8" width="7" height="7" fill="#000" stroke="#000" stroke-width="0.8"/>
<text x="228" y="418.6" font-size="10" text-anchor="start" fill="#111" >Total</text>
<text x="228" y="430.8" font-size="10" fill="#111">IP<tspan dy="2" font-size="5.4" fill="#667">25</tspan><tspan dy="-2" font-size="3"> </tspan> producers</text>
<text x="429.6" y="412.6" font-size="10" fill="#111">Valves ml<tspan dy="-4.2" font-size="5.4">-1</tspan></text>
<line x1="430.7" y1="420" x2="430.7" y2="437.6" stroke="#222" stroke-width="1.1" />
<line x1="430.7" y1="420.5" x2="435.7" y2="420.5" stroke="#222" stroke-width="1.0" />
<line x1="430.7" y1="437.1" x2="435.7" y2="437.1" stroke="#222" stroke-width="1.0" />
<line x1="430.7" y1="426" x2="433.7" y2="426" stroke="#222" stroke-width="1.0" />
<line x1="430.7" y1="431.6" x2="433.7" y2="431.6" stroke="#222" stroke-width="1.0" />
<text x="439.6" y="422.7" font-size="9.6" text-anchor="start" fill="#222" >150</text>
<text x="439.6" y="439.4" font-size="9.6" text-anchor="start" fill="#222" >0</text>
<text x="94.6" y="463.9" font-size="10.7" text-anchor="start" fill="#111" >HBIs (water)</text>
<line x1="87.4" y1="457.1" x2="87.4" y2="491.9" stroke="#222" stroke-width="1.1" />
<line x1="87.4" y1="457.6" x2="82.2" y2="457.6" stroke="#222" stroke-width="1.0" />
<line x1="87.4" y1="468.87" x2="82.2" y2="468.87" stroke="#222" stroke-width="1.0" />
<line x1="87.4" y1="480.13" x2="82.2" y2="480.13" stroke="#222" stroke-width="1.0" />
<line x1="87.4" y1="491.4" x2="82.2" y2="491.4" stroke="#222" stroke-width="1.0" />
<line x1="87.4" y1="463.23" x2="84.4" y2="463.23" stroke="#222" stroke-width="1.0" />
<line x1="87.4" y1="474.5" x2="84.4" y2="474.5" stroke="#222" stroke-width="1.0" />
<line x1="87.4" y1="485.77" x2="84.4" y2="485.77" stroke="#222" stroke-width="1.0" />
<text x="79.8" y="461.2" font-size="10.3" text-anchor="end" fill="#222" >0.006</text>
<text x="79.8" y="472.47" font-size="10.3" text-anchor="end" fill="#222" >0.004</text>
<text x="79.8" y="483.73" font-size="10.3" text-anchor="end" fill="#222" >0.002</text>
<text x="79.8" y="495" font-size="10.3" text-anchor="end" fill="#222" >0</text>
<text transform="translate(49.4,473.5) rotate(-90)" font-size="10.3" text-anchor="middle" fill="#111">ng ml<tspan dy="-4.2" font-size="5.4">-1</tspan></text>
<line x1="90.4" y1="491.4" x2="428.7" y2="491.4" stroke="#3a3a3a" stroke-width="1.4" />
<polyline points="100.65,490.8 121.75,490.8 153.4,490.9 195.6,490.9" fill="none" stroke="#4a9bd6" stroke-width="1.2" stroke-linejoin="round"/>
<line x1="97.95" y1="488.1" x2="103.35" y2="493.5" stroke="#4a9bd6" stroke-width="1.1" />
<line x1="97.95" y1="493.5" x2="103.35" y2="488.1" stroke="#4a9bd6" stroke-width="1.1" />
<line x1="119.05" y1="488.1" x2="124.45" y2="493.5" stroke="#4a9bd6" stroke-width="1.1" />
<line x1="119.05" y1="493.5" x2="124.45" y2="488.1" stroke="#4a9bd6" stroke-width="1.1" />
<line x1="150.7" y1="488.2" x2="156.1" y2="493.6" stroke="#4a9bd6" stroke-width="1.1" />
<line x1="150.7" y1="493.6" x2="156.1" y2="488.2" stroke="#4a9bd6" stroke-width="1.1" />
<line x1="192.9" y1="488.2" x2="198.3" y2="493.6" stroke="#4a9bd6" stroke-width="1.1" />
<line x1="192.9" y1="493.6" x2="198.3" y2="488.2" stroke="#4a9bd6" stroke-width="1.1" />
<polyline points="333.55,490.5 354.65,490.6 375.75,490.8 396.85,490.4 417.95,490.9" fill="none" stroke="#4a9bd6" stroke-width="1.2" stroke-linejoin="round"/>
<line x1="330.85" y1="487.8" x2="336.25" y2="493.2" stroke="#4a9bd6" stroke-width="1.1" />
<line x1="330.85" y1="493.2" x2="336.25" y2="487.8" stroke="#4a9bd6" stroke-width="1.1" />
<line x1="351.95" y1="487.9" x2="357.35" y2="493.3" stroke="#4a9bd6" stroke-width="1.1" />
<line x1="351.95" y1="493.3" x2="357.35" y2="487.9" stroke="#4a9bd6" stroke-width="1.1" />
<line x1="373.05" y1="488.1" x2="378.45" y2="493.5" stroke="#4a9bd6" stroke-width="1.1" />
<line x1="373.05" y1="493.5" x2="378.45" y2="488.1" stroke="#4a9bd6" stroke-width="1.1" />
<line x1="394.15" y1="487.7" x2="399.55" y2="493.1" stroke="#4a9bd6" stroke-width="1.1" />
<line x1="394.15" y1="493.1" x2="399.55" y2="487.7" stroke="#4a9bd6" stroke-width="1.1" />
<line x1="415.25" y1="488.2" x2="420.65" y2="493.6" stroke="#4a9bd6" stroke-width="1.1" />
<line x1="415.25" y1="493.6" x2="420.65" y2="488.2" stroke="#4a9bd6" stroke-width="1.1" />
<polyline points="100.65,490 121.75,489.8 153.4,490.2 195.6,490.2" fill="none" stroke="#c4233d" stroke-width="1.2" stroke-linejoin="round"/>
<line x1="97.95" y1="487.3" x2="103.35" y2="492.7" stroke="#c4233d" stroke-width="1.1" />
<line x1="97.95" y1="492.7" x2="103.35" y2="487.3" stroke="#c4233d" stroke-width="1.1" />
<line x1="119.05" y1="487.1" x2="124.45" y2="492.5" stroke="#c4233d" stroke-width="1.1" />
<line x1="119.05" y1="492.5" x2="124.45" y2="487.1" stroke="#c4233d" stroke-width="1.1" />
<line x1="150.7" y1="487.5" x2="156.1" y2="492.9" stroke="#c4233d" stroke-width="1.1" />
<line x1="150.7" y1="492.9" x2="156.1" y2="487.5" stroke="#c4233d" stroke-width="1.1" />
<line x1="192.9" y1="487.5" x2="198.3" y2="492.9" stroke="#c4233d" stroke-width="1.1" />
<line x1="192.9" y1="492.9" x2="198.3" y2="487.5" stroke="#c4233d" stroke-width="1.1" />
<polyline points="333.55,488.5 354.65,488 375.75,488.5 396.85,485.3 417.95,488.7" fill="none" stroke="#c4233d" stroke-width="1.2" stroke-linejoin="round"/>
<line x1="330.85" y1="485.8" x2="336.25" y2="491.2" stroke="#c4233d" stroke-width="1.1" />
<line x1="330.85" y1="491.2" x2="336.25" y2="485.8" stroke="#c4233d" stroke-width="1.1" />
<line x1="351.95" y1="485.3" x2="357.35" y2="490.7" stroke="#c4233d" stroke-width="1.1" />
<line x1="351.95" y1="490.7" x2="357.35" y2="485.3" stroke="#c4233d" stroke-width="1.1" />
<line x1="373.05" y1="485.8" x2="378.45" y2="491.2" stroke="#c4233d" stroke-width="1.1" />
<line x1="373.05" y1="491.2" x2="378.45" y2="485.8" stroke="#c4233d" stroke-width="1.1" />
<line x1="394.15" y1="482.6" x2="399.55" y2="488" stroke="#c4233d" stroke-width="1.1" />
<line x1="394.15" y1="488" x2="399.55" y2="482.6" stroke="#c4233d" stroke-width="1.1" />
<line x1="415.25" y1="486" x2="420.65" y2="491.4" stroke="#c4233d" stroke-width="1.1" />
<line x1="415.25" y1="491.4" x2="420.65" y2="486" stroke="#c4233d" stroke-width="1.1" />
<polyline points="100.65,487.5 121.75,487.4 153.4,487.5 195.6,488.6" fill="none" stroke="#e8902a" stroke-width="1.2" stroke-linejoin="round"/>
<line x1="97.95" y1="484.8" x2="103.35" y2="490.2" stroke="#e8902a" stroke-width="1.1" />
<line x1="97.95" y1="490.2" x2="103.35" y2="484.8" stroke="#e8902a" stroke-width="1.1" />
<line x1="119.05" y1="484.7" x2="124.45" y2="490.1" stroke="#e8902a" stroke-width="1.1" />
<line x1="119.05" y1="490.1" x2="124.45" y2="484.7" stroke="#e8902a" stroke-width="1.1" />
<line x1="150.7" y1="484.8" x2="156.1" y2="490.2" stroke="#e8902a" stroke-width="1.1" />
<line x1="150.7" y1="490.2" x2="156.1" y2="484.8" stroke="#e8902a" stroke-width="1.1" />
<line x1="192.9" y1="485.9" x2="198.3" y2="491.3" stroke="#e8902a" stroke-width="1.1" />
<line x1="192.9" y1="491.3" x2="198.3" y2="485.9" stroke="#e8902a" stroke-width="1.1" />
<polyline points="333.55,481.4 354.65,483.2 375.75,486.1 396.85,460.4 417.95,483.5" fill="none" stroke="#e8902a" stroke-width="1.2" stroke-linejoin="round"/>
<line x1="330.85" y1="478.7" x2="336.25" y2="484.1" stroke="#e8902a" stroke-width="1.1" />
<line x1="330.85" y1="484.1" x2="336.25" y2="478.7" stroke="#e8902a" stroke-width="1.1" />
<line x1="351.95" y1="480.5" x2="357.35" y2="485.9" stroke="#e8902a" stroke-width="1.1" />
<line x1="351.95" y1="485.9" x2="357.35" y2="480.5" stroke="#e8902a" stroke-width="1.1" />
<line x1="373.05" y1="483.4" x2="378.45" y2="488.8" stroke="#e8902a" stroke-width="1.1" />
<line x1="373.05" y1="488.8" x2="378.45" y2="483.4" stroke="#e8902a" stroke-width="1.1" />
<line x1="394.15" y1="457.7" x2="399.55" y2="463.1" stroke="#e8902a" stroke-width="1.1" />
<line x1="394.15" y1="463.1" x2="399.55" y2="457.7" stroke="#e8902a" stroke-width="1.1" />
<line x1="415.25" y1="480.8" x2="420.65" y2="486.2" stroke="#e8902a" stroke-width="1.1" />
<line x1="415.25" y1="486.2" x2="420.65" y2="480.8" stroke="#e8902a" stroke-width="1.1" />
<polyline points="100.65,490.2 121.75,489.4 153.4,490.5 195.6,490.5" fill="none" stroke="#12386e" stroke-width="1.2" stroke-linejoin="round"/>
<line x1="97.95" y1="487.5" x2="103.35" y2="492.9" stroke="#12386e" stroke-width="1.1" />
<line x1="97.95" y1="492.9" x2="103.35" y2="487.5" stroke="#12386e" stroke-width="1.1" />
<line x1="119.05" y1="486.7" x2="124.45" y2="492.1" stroke="#12386e" stroke-width="1.1" />
<line x1="119.05" y1="492.1" x2="124.45" y2="486.7" stroke="#12386e" stroke-width="1.1" />
<line x1="150.7" y1="487.8" x2="156.1" y2="493.2" stroke="#12386e" stroke-width="1.1" />
<line x1="150.7" y1="493.2" x2="156.1" y2="487.8" stroke="#12386e" stroke-width="1.1" />
<line x1="192.9" y1="487.8" x2="198.3" y2="493.2" stroke="#12386e" stroke-width="1.1" />
<line x1="192.9" y1="493.2" x2="198.3" y2="487.8" stroke="#12386e" stroke-width="1.1" />
<polyline points="333.55,486.1 354.65,485.3 375.75,487.2 396.85,474.5 417.95,488.2" fill="none" stroke="#12386e" stroke-width="1.2" stroke-linejoin="round"/>
<line x1="330.85" y1="483.4" x2="336.25" y2="488.8" stroke="#12386e" stroke-width="1.1" />
<line x1="330.85" y1="488.8" x2="336.25" y2="483.4" stroke="#12386e" stroke-width="1.1" />
<line x1="351.95" y1="482.6" x2="357.35" y2="488" stroke="#12386e" stroke-width="1.1" />
<line x1="351.95" y1="488" x2="357.35" y2="482.6" stroke="#12386e" stroke-width="1.1" />
<line x1="373.05" y1="484.5" x2="378.45" y2="489.9" stroke="#12386e" stroke-width="1.1" />
<line x1="373.05" y1="489.9" x2="378.45" y2="484.5" stroke="#12386e" stroke-width="1.1" />
<line x1="394.15" y1="471.8" x2="399.55" y2="477.2" stroke="#12386e" stroke-width="1.1" />
<line x1="394.15" y1="477.2" x2="399.55" y2="471.8" stroke="#12386e" stroke-width="1.1" />
<line x1="415.25" y1="485.5" x2="420.65" y2="490.9" stroke="#12386e" stroke-width="1.1" />
<line x1="415.25" y1="490.9" x2="420.65" y2="485.5" stroke="#12386e" stroke-width="1.1" />
<rect x="215.2" y="443.4" width="7" height="7" fill="#e8902a" stroke="#2a2a2a" stroke-width="0.8"/>
<rect x="215.2" y="456.1" width="7" height="7" fill="#c4233d" stroke="#2a2a2a" stroke-width="0.8"/>
<rect x="215.2" y="468.3" width="7" height="7" fill="#4a9bd6" stroke="#2a2a2a" stroke-width="0.8"/>
<rect x="215.2" y="479.8" width="7" height="7" fill="#12386e" stroke="#2a2a2a" stroke-width="0.8"/>
<text x="228" y="450" font-size="10" fill="#111">IP<tspan dy="2" font-size="5.4" fill="#667">25</tspan><tspan dy="-2" font-size="3"> </tspan></text>
<text x="228" y="462.7" font-size="10" fill="#111">IPSO<tspan dy="2" font-size="5.4" fill="#667">25</tspan><tspan dy="-2" font-size="3"> </tspan></text>
<text x="228" y="475.1" font-size="10" text-anchor="start" fill="#111" >HBI III</text>
<text x="228" y="486.6" font-size="10" text-anchor="start" fill="#111" >HBI IV</text>
<defs>
<linearGradient id="wg" x1="0" y1="150" x2="0" y2="475" gradientUnits="userSpaceOnUse">
<stop offset="0.0000" stop-color="#8ccaf0"/>
<stop offset="0.1077" stop-color="#7bbdea"/>
<stop offset="0.1785" stop-color="#6fb5e5"/>
<stop offset="0.2708" stop-color="#62a8de"/>
<stop offset="0.4308" stop-color="#4292d4"/>
<stop offset="0.4923" stop-color="#388ad2"/>
<stop offset="0.5723" stop-color="#2e7bc2"/>
<stop offset="0.6646" stop-color="#2467ac"/>
<stop offset="0.7231" stop-color="#1c5a94"/>
<stop offset="0.7846" stop-color="#194c84"/>
<stop offset="0.8154" stop-color="#14467c"/>
<stop offset="0.8615" stop-color="#0f3a6c"/>
<stop offset="0.9077" stop-color="#0a2e5e"/>
<stop offset="0.9292" stop-color="#1c3658"/>
<stop offset="0.9538" stop-color="#323a4c"/>
<stop offset="0.9785" stop-color="#4a4444"/>
<stop offset="1.0000" stop-color="#5e4a3c"/>
</linearGradient>
<radialGradient id="fl" cx="0.45" cy="0.4" r="0.6">
<stop offset="0" stop-color="#fbf0cf"/><stop offset="0.6" stop-color="#efd9a0"/><stop offset="1" stop-color="#cfae6a"/>
</radialGradient>
<pattern id="hatch" width="5.25" height="10" patternUnits="userSpaceOnUse" patternTransform="translate(1.2,0) skewX(-35.7)">
<line x1="2.6" y1="-1" x2="2.6" y2="11" stroke="#c2c2c2" stroke-width="0.7"/>
</pattern>
</defs>
<rect x="490.8" y="150" width="111.6" height="324.6" fill="url(#wg)" stroke="none" stroke-width="1"/>
<polygon points="490.8,181 500,181 514,183 526,181.5 532,175 539,165.7 555,165 570,162 581.4,157.6 588.6,145.9 599,144.4 601.8,150 601.8,166.3 596,173.6 578.4,181 563.8,188.2 545,192 520,195 490.8,197" fill="#8fb3d6" stroke="none" stroke-width="1" />
<polygon points="578.4,160.5 586,152 596,148 596,173.6 578.4,181" fill="#cfe3f5" stroke="none" stroke-width="1" />
<polygon points="537,168 547,166 547,187 537,190" fill="#cfe3f5" stroke="none" stroke-width="1" />
<path d="M490.8,195.4 L505,193.8 L520,192.2 L545,188.8 L563.8,186 L568,187 L558,191 L550,193.2 L545,195.8 L540,196.5 L535,199 L530,199.3 L525,201.4 L519,201.2 L514,203.4 L509,202.6 L504,205 L498,203.8 L494,205.6 L490.8,205.6 Z" fill="#86ab80" stroke="none" stroke-width="1" />
<polygon points="608,118 612.2,120.2 604.6,135 602.6,140 602.6,168 598,150 598.9,144.4 600.4,135" fill="#8fb3d6" stroke="none" stroke-width="1" />
<path d="M490.6,68.8 L514.2,63 C520,60 522,54 525.9,51.3 C531,47.5 536,46.2 540.5,46 C546,45.8 552,48.5 556.5,47.8 C560,45 562,38 565.3,36.1 L581.4,36.1 L610.5,37.3 L622.2,35.2 C630,38 636,41 642.7,44 C651,48 659,51 666,54.2 L685,60.2 L685,60.5 L676,66.8 L671.8,69.6 L659.3,70.5 L651,71.6 L642.7,77.2 L637.8,80.7 L637.8,91.8 L626,95.5 L619.8,92.7 L615,92.2 L610.8,96.6 C609.8,104 609,112 608,118.8 L600.4,135 L598.9,144.4 L588.6,145.9 C586,150 584,155 581.4,157.6 C577,160 573,161.2 569.7,162 C565,163.5 560,164.6 555,165 L539,165.7 C536,169 534,172 531.7,175 C530,178 528,180 525.9,181.5 C522,183 518,183.2 514.2,183.2 C509,182.5 504,181 499.6,181 C496,181.5 493,183 490.6,183.8 Z" fill="#ffffff" stroke="#8db7dd" stroke-width="0.9" stroke-linejoin="round"/>
<polygon points="637.8,80.7 642.7,77.2 651,71.6 659.3,70.5 671.8,69.6 676,66.8 685,60.5 685,73 678.8,77.2 671.8,78.6 664.9,83.4 655.2,86.9 646.9,89.7 641.3,96.6 637.8,100.8" fill="#8dafd0" stroke="#8db7dd" stroke-width="0.5" />
<polygon points="642,77.9 645.5,77.2 646.2,90.4 642.7,92.4" fill="#cfe4f5" stroke="none" stroke-width="1" />
<polygon points="664.9,71.4 671.1,70 671.1,78.6 665.6,82" fill="#cfe4f5" stroke="none" stroke-width="1" />
<path d="M667.2,71 L667.5,80.6 M669.4,70.4 L669.6,79.4" fill="none" stroke="#eef6fc" stroke-width="0.6" />
<polygon points="608,118.8 610.8,96.6 615,92.2 619.8,92.7 626,95.5 624.7,114.6 616.4,119.5 610.8,120.2" fill="#8dafd0" stroke="#8db7dd" stroke-width="0.5" />
<polygon points="626,95.5 637.8,91.8 637.8,110.5 635.8,111.2 635.1,102.9 633.7,113.3 626.8,116" fill="#d2e7f7" stroke="#8db7dd" stroke-width="0.4" />
<path d="M612.9,95.2 L608.7,117.4 M624,96.6 L619.8,116.7" fill="none" stroke="#e8f2fb" stroke-width="0.8" />
<path d="M502.45,82.23 C505.09,78.92 502.45,79.75 509.89,74.78 C517.34,69.82 516.51,71.89 524.78,67.34 C533.06,62.79 529.33,64.28 534.71,61.13 C540.09,57.99 535.54,58.49 540.92,57.91 C546.29,57.33 546.71,57.74 550.85,59.4 C554.98,61.05 554.57,60.64 553.33,62.87 C552.09,65.1 548.78,64.19 547.12,66.1 C545.47,68 541.74,68 548.36,68.58 C554.98,69.16 557.46,69.08 566.98,67.83 C576.49,66.59 572.36,67.92 576.91,64.86 C581.46,61.79 576.49,61.3 580.63,58.65 C584.77,56 581.46,56.67 589.32,56.91 C597.18,57.16 595.93,57.99 604.21,59.4 C612.48,60.8 610.41,61.79 614.14,61.13 C617.86,60.47 612.07,58.49 615.38,57.41 C618.69,56.33 617.86,56.67 624.06,57.91 C630.27,59.15 626.13,59.81 633.99,61.13 C641.85,62.46 642.51,60.8 647.64,61.88 C652.77,62.95 653.93,62.95 649.38,64.36 C644.83,65.77 641.6,64.28 633.99,66.1 C626.38,67.92 633.99,68.17 626.55,69.82 C619.1,71.47 620.75,71.47 611.65,71.06 C602.55,70.65 607.1,69.65 599.24,68.58 C591.38,67.5 592.38,67.01 588.08,67.83 C583.77,68.66 583.44,68.33 586.34,71.06 C589.23,73.79 593.7,73.13 596.76,76.03 C599.82,78.92 599.66,79.17 595.52,79.75 C591.38,80.33 591.38,78.59 584.35,77.76 C577.32,76.94 579.39,76.6 574.42,77.27 C569.46,77.93 575.25,79.33 569.46,79.75 C563.67,80.16 566.98,78.92 557.05,78.51 C547.12,78.09 546.29,77.27 539.68,78.51 C533.06,79.75 538.85,78.67 537.19,82.23 C535.54,85.79 540.5,86.04 534.71,89.18 C528.92,92.32 528.92,91.66 519.82,91.66 C510.72,91.66 513.37,91.5 507.41,89.18 C501.45,86.86 503.6,87.03 501.95,84.71 C500.29,82.4 499.8,85.54 502.45,82.23 Z" fill="#d4e7f6" stroke="none" stroke-width="1" />
<path d="M490.8,121 C494,126 498,130 502.5,132.7 C509,136.5 516,139.5 521.5,143 C524.5,145 525.2,148 524.4,150.3 C523.5,154 522,156.5 520,157.6 C514,157.5 508,155.5 502.5,154.6 C498,154.5 494,155.4 490.8,156 Z" fill="#d6e8f7" stroke="#8db7dd" stroke-width="0.9" />
<line x1="490.8" y1="68.8" x2="490.8" y2="474.6" stroke="#8db7dd" stroke-width="0.9" />
<line x1="602.4" y1="138" x2="602.4" y2="172" stroke="#9cc6ea" stroke-width="0.8" />
<line x1="602.4" y1="234.2" x2="602.4" y2="418.5" stroke="#15181c" stroke-width="0.9" />
<circle cx="602.4" cy="234.2" r="2.6" fill="#000"/>
<circle cx="602.4" cy="256" r="6.2" fill="url(#fl)" stroke="#4a3f2a" stroke-width="0.9"/>
<circle cx="602.4" cy="278.8" r="6.2" fill="url(#fl)" stroke="#4a3f2a" stroke-width="0.9"/>
<circle cx="602.4" cy="292.5" r="6.2" fill="url(#fl)" stroke="#4a3f2a" stroke-width="0.9"/>
<rect x="552.7" y="326.5" width="30.7" height="52.5" fill="#fff" stroke="none" stroke-width="1"/>
<line x1="551" y1="326.6" x2="585.6" y2="326.6" stroke="#111" stroke-width="1.8" />
<line x1="551" y1="379.2" x2="585.6" y2="379.2" stroke="#111" stroke-width="2.0" />
<text x="568.1" y="355.6" font-size="13.6" text-anchor="middle" fill="#111" >trap</text>
<polygon points="599.7,336.7 610,330 617,349.9 610.5,371.2 599.7,361" fill="#c9c9c9" stroke="#777" stroke-width="0.9" />
<line x1="583.4" y1="349.3" x2="603.4" y2="349.3" stroke="#111" stroke-width="1.1" />
<polyline points="612,343.4 603.4,349.3 612,355.7" fill="none" stroke="#111" stroke-width="1.1" />
<path d="M600.2,418.2 L603.8,418.2 L604.3,428 L603,436.5 L603.2,463.5 L608.5,464.5 L610.5,472.8 C614,473.6 620,474 623,474.6 L580,474.6 C585,474 591,473.6 594.5,472.8 L596.3,464.5 L601.3,463.5 L601.5,436.5 L599.8,428 Z" fill="#b7ab6d" stroke="#2d2a1a" stroke-width="0.7" />
<path d="M580,474.6 C590,473.5 613,473.5 623,474.6 C613,475.6 590,475.6 580,474.6 Z" fill="#1a1a14" stroke="none" stroke-width="1" />
<circle cx="545.4" cy="195.2" r="19.7" fill="none" stroke="#111" stroke-width="1.2"/>
<circle cx="547.5" cy="270.2" r="19.7" fill="none" stroke="#111" stroke-width="1.2"/>
<text x="545.6" y="199.6" font-size="13.4" text-anchor="middle" fill="#111" >ice</text>
<text x="547.7" y="274.8" font-size="13.4" text-anchor="middle" fill="#111" >water</text>
<line x1="451.3" y1="71.1" x2="528.6" y2="183.4" stroke="#111" stroke-width="1.1" />
<line x1="528.8" y1="208.8" x2="432.6" y2="376" stroke="#111" stroke-width="1.1" />
<line x1="533.8" y1="284.6" x2="438.4" y2="383.9" stroke="#111" stroke-width="1.1" />
<line x1="547.3" y1="289.9" x2="431.8" y2="485.5" stroke="#111" stroke-width="1.1" />
<line x1="551.6" y1="379.6" x2="436.3" y2="496" stroke="#111" stroke-width="1.1" />
<line x1="584.4" y1="379.6" x2="637.4" y2="499.6" stroke="#111" stroke-width="1.1" />
<rect x="583.1" y="497.4" width="28.1" height="259.6" fill="url(#hatch)" stroke="none" stroke-width="1"/>
<text x="94" y="509.9" font-size="10.7" text-anchor="start" fill="#111" >Diatoms (trap)</text>
<text x="180" y="509.9" font-size="10.75" text-anchor="start" fill="#111" >Dinoflagellate cysts (trap)</text>
<text x="318.7" y="523" font-size="31" text-anchor="middle" fill="#fff" stroke="#333" stroke-width="0.65">*</text>
<line x1="40.7" y1="497.6" x2="40.7" y2="532.7" stroke="#222" stroke-width="1.1" />
<line x1="40.7" y1="498.1" x2="35.5" y2="498.1" stroke="#222" stroke-width="1" />
<line x1="40.7" y1="509.5" x2="35.5" y2="509.5" stroke="#222" stroke-width="1" />
<line x1="40.7" y1="520.8" x2="35.5" y2="520.8" stroke="#222" stroke-width="1" />
<line x1="40.7" y1="532.2" x2="35.5" y2="532.2" stroke="#222" stroke-width="1" />
<line x1="40.7" y1="503.8" x2="37.6" y2="503.8" stroke="#222" stroke-width="1" />
<line x1="40.7" y1="515.2" x2="37.6" y2="515.2" stroke="#222" stroke-width="1" />
<line x1="40.7" y1="526.5" x2="37.6" y2="526.5" stroke="#222" stroke-width="1" />
<text x="32.6" y="501.7" font-size="10.3" text-anchor="end" fill="#111" >150</text>
<text x="32.6" y="513.1" font-size="10.3" text-anchor="end" fill="#111" >100</text>
<text x="32.6" y="524.4" font-size="10.3" text-anchor="end" fill="#111" >50</text>
<text x="32.6" y="535.8" font-size="10.3" text-anchor="end" fill="#111" >0</text>
<line x1="512.34" y1="532.2" x2="554.66" y2="532.2" stroke="#555" stroke-width="1.0" />
<line x1="48.4" y1="532.2" x2="512.34" y2="532.2" stroke="#000" stroke-width="2.0" />
<line x1="258.9" y1="531.3" x2="512.34" y2="531.3" stroke="#173f74" stroke-width="0.9" />
<polygon points="554.66,532.2 554.66,516.2 596.98,516.2 596.98,503.3 639.3,503.3 639.3,532.2" fill="#1c4f8a" stroke="#10233a" stroke-width="1.0" />
<text x="618.6" y="532.9" font-size="33" text-anchor="middle" fill="#fff" font-family="Liberation Sans, Arial, sans-serif">*</text>
<text x="597" y="495.8" font-size="10.6" text-anchor="middle" fill="#111" >Ice break-up</text>
<text x="94" y="549.2" font-size="10.7" fill="#111">IP<tspan dy="2" font-size="5.6" fill="#667">25</tspan><tspan dy="-2" font-size="3"> </tspan>producers (trap)</text>
<line x1="40.7" y1="547.5" x2="40.7" y2="557.8" stroke="#222" stroke-width="1.1" />
<line x1="40.7" y1="548" x2="35.5" y2="548" stroke="#222" stroke-width="1" />
<line x1="40.7" y1="557.3" x2="35.5" y2="557.3" stroke="#222" stroke-width="1" />
<line x1="40.7" y1="552.6" x2="37.6" y2="552.6" stroke="#222" stroke-width="1" />
<text x="32.6" y="551.6" font-size="10.3" text-anchor="end" fill="#111" >4</text>
<text x="32.6" y="560.9" font-size="10.3" text-anchor="end" fill="#111" >0</text>
<line x1="48.4" y1="557.3" x2="639.3" y2="557.3" stroke="#555" stroke-width="1.1" />
<polygon points="48.4,557.3 48.4,556.4 174.5,556.4 174.5,555.9 258.9,555.9 258.9,553.7 343.3,553.7 343.3,547 427.7,547 427.7,548.4 470.02,548.4 470.02,555.7 512.34,555.7 512.34,557.3" fill="#000" stroke="none" stroke-width="1" />
<polygon points="554.66,557.6 554.66,554.3 596.98,554.3 596.98,553.2 639.3,553.2 639.3,557.6" fill="#000" stroke="none" stroke-width="1" />
<text x="94" y="584.4" font-size="10.7" fill="#111">IP<tspan dy="2" font-size="5.6" fill="#667">25</tspan><tspan dy="-2" font-size="3"> </tspan>(trap)</text>
<line x1="40.7" y1="573.8" x2="40.7" y2="599.9" stroke="#222" stroke-width="1.1" />
<line x1="40.7" y1="574.3" x2="35.5" y2="574.3" stroke="#222" stroke-width="1" />
<line x1="40.7" y1="582.7" x2="35.5" y2="582.7" stroke="#222" stroke-width="1" />
<line x1="40.7" y1="591" x2="35.5" y2="591" stroke="#222" stroke-width="1" />
<line x1="40.7" y1="599.4" x2="35.5" y2="599.4" stroke="#222" stroke-width="1" />
<line x1="40.7" y1="578.5" x2="37.6" y2="578.5" stroke="#222" stroke-width="1" />
<line x1="40.7" y1="586.8" x2="37.6" y2="586.8" stroke="#222" stroke-width="1" />
<line x1="40.7" y1="595.2" x2="37.6" y2="595.2" stroke="#222" stroke-width="1" />
<text x="32.6" y="577.9" font-size="10.3" text-anchor="end" fill="#111" >300</text>
<text x="32.6" y="586.3" font-size="10.3" text-anchor="end" fill="#111" >200</text>
<text x="32.6" y="594.6" font-size="10.3" text-anchor="end" fill="#111" >100</text>
<text x="32.6" y="603" font-size="10.3" text-anchor="end" fill="#111" >0</text>
<line x1="48.4" y1="599.4" x2="639.3" y2="599.4" stroke="#444" stroke-width="1.2" />
<polyline points="48.4,599.3 90.1,599.3 90.1,598.8 174.5,598.8 174.5,598.3 258.9,598.3 258.9,595.5 343.3,595.5 343.3,592.2 427.7,592.2 427.7,594.2 470.02,594.2 470.02,596.3 512.34,596.3 512.34,599.4" fill="none" stroke="#e8902a" stroke-width="1.2" />
<polyline points="554.66,599.4 554.66,577.6 596.98,577.6 596.98,587.9 639.3,587.9" fill="none" stroke="#e8902a" stroke-width="1.2" />
<text x="94" y="613.4" font-size="10.7" fill="#111">IPSO<tspan dy="2" font-size="5.6" fill="#667">25</tspan><tspan dy="-2" font-size="3"> </tspan>(trap)</text>
<line x1="40.7" y1="608" x2="40.7" y2="617.6" stroke="#222" stroke-width="1.1" />
<line x1="40.7" y1="608.5" x2="35.5" y2="608.5" stroke="#222" stroke-width="1" />
<line x1="40.7" y1="617.1" x2="35.5" y2="617.1" stroke="#222" stroke-width="1" />
<line x1="40.7" y1="612.8" x2="37.6" y2="612.8" stroke="#222" stroke-width="1" />
<text x="32.6" y="612.1" font-size="10.3" text-anchor="end" fill="#111" >100</text>
<text x="32.6" y="620.7" font-size="10.3" text-anchor="end" fill="#111" >0</text>
<line x1="512.34" y1="617.1" x2="639.3" y2="617.1" stroke="#555" stroke-width="1.0" />
<polyline points="48.4,617.1 343.3,617.1 343.3,616.6 512.34,616.6" fill="none" stroke="#bd1c36" stroke-width="1.3" />
<line x1="343.3" y1="616.9" x2="512.34" y2="616.9" stroke="#7a1020" stroke-width="1.4" />
<polyline points="554.66,617.1 554.66,614.6 596.98,614.6 596.98,615.6 639.3,615.6" fill="none" stroke="#bd1c36" stroke-width="1.2" />
<text x="94" y="636.2" font-size="10.7" text-anchor="start" fill="#111" >HBI III (trap)</text>
<line x1="40.7" y1="633" x2="40.7" y2="641.2" stroke="#222" stroke-width="1.1" />
<line x1="40.7" y1="633.5" x2="35.5" y2="633.5" stroke="#222" stroke-width="1" />
<line x1="40.7" y1="640.7" x2="35.5" y2="640.7" stroke="#222" stroke-width="1" />
<line x1="40.7" y1="637.1" x2="37.6" y2="637.1" stroke="#222" stroke-width="1" />
<text x="32.6" y="637.1" font-size="10.3" text-anchor="end" fill="#111" >100</text>
<text x="32.6" y="644.3" font-size="10.3" text-anchor="end" fill="#111" >0</text>
<line x1="48.4" y1="640.7" x2="639.3" y2="640.7" stroke="#5fa8dc" stroke-width="1.5" />
<line x1="343.3" y1="640.7" x2="470.02" y2="640.7" stroke="#2a6aa8" stroke-width="1.5" />
<line x1="512.34" y1="640.7" x2="554.66" y2="640.7" stroke="#666" stroke-width="1.5" />
<text x="94" y="661" font-size="10.7" text-anchor="start" fill="#111" >HBI IV (trap)</text>
<line x1="40.7" y1="651.3" x2="40.7" y2="668.9" stroke="#222" stroke-width="1.1" />
<line x1="40.7" y1="651.8" x2="35.5" y2="651.8" stroke="#222" stroke-width="1" />
<line x1="40.7" y1="660.1" x2="35.5" y2="660.1" stroke="#222" stroke-width="1" />
<line x1="40.7" y1="668.4" x2="35.5" y2="668.4" stroke="#222" stroke-width="1" />
<line x1="40.7" y1="655.9" x2="37.6" y2="655.9" stroke="#222" stroke-width="1" />
<line x1="40.7" y1="664.2" x2="37.6" y2="664.2" stroke="#222" stroke-width="1" />
<text x="32.6" y="655.4" font-size="10.3" text-anchor="end" fill="#111" >200</text>
<text x="32.6" y="663.7" font-size="10.3" text-anchor="end" fill="#111" >100</text>
<text x="32.6" y="672" font-size="10.3" text-anchor="end" fill="#111" >0</text>
<line x1="48.4" y1="668.4" x2="639.3" y2="668.4" stroke="#555" stroke-width="1.1" />
<polyline points="48.4,668.2 90.1,668.2 90.1,666.8 258.9,666.8 258.9,663.5 343.3,663.5 343.3,654.4 427.7,654.4 427.7,656.1 470.02,656.1 470.02,666.8 512.34,666.8 512.34,668.4" fill="none" stroke="#12386e" stroke-width="1.2" />
<polyline points="554.66,667.7 596.98,667.7 596.98,666.5 639.3,666.5" fill="none" stroke="#12386e" stroke-width="1.3" />
<text x="94" y="685.4" font-size="10.7" text-anchor="start" fill="#111" >TOC flux (trap)</text>
<text x="94" y="697.2" font-size="10.7" text-anchor="start" fill="#555" >OC isotopic composition</text>
<line x1="40.7" y1="685.5" x2="40.7" y2="713" stroke="#222" stroke-width="1.1" />
<line x1="40.7" y1="686" x2="35.5" y2="686" stroke="#222" stroke-width="1" />
<line x1="40.7" y1="699.3" x2="35.5" y2="699.3" stroke="#222" stroke-width="1" />
<line x1="40.7" y1="712.5" x2="35.5" y2="712.5" stroke="#222" stroke-width="1" />
<line x1="40.7" y1="692.6" x2="37.6" y2="692.6" stroke="#222" stroke-width="1" />
<line x1="40.7" y1="705.9" x2="37.6" y2="705.9" stroke="#222" stroke-width="1" />
<text x="32.6" y="689.6" font-size="10.3" text-anchor="end" fill="#111" >20</text>
<text x="32.6" y="702.9" font-size="10.3" text-anchor="end" fill="#111" >10</text>
<text x="32.6" y="716.1" font-size="10.3" text-anchor="end" fill="#111" >0</text>
<line x1="40.7" y1="712.5" x2="642.5" y2="712.5" stroke="#111" stroke-width="1.1" />
<polyline points="48.4,706.4 90.1,706.4 90.1,708.8 258.9,708.8 258.9,706.5 343.3,706.5 343.3,700.4 427.7,700.4 427.7,704.8 470.02,704.8 470.02,705.9 512.34,705.9" fill="none" stroke="#111" stroke-width="1.1" />
<polyline points="554.66,694.3 596.98,694.3 596.98,686.1 640.3,686.1" fill="none" stroke="#111" stroke-width="1.1" />
<line x1="596.98" y1="686.1" x2="596.98" y2="702.1" stroke="#333" stroke-width="1.1" />
<polyline points="48.4,708.8 90.1,708.8" fill="none" stroke="#6a6a6a" stroke-width="1.2" stroke-dasharray="8.5,2.6"/>
<polyline points="90.1,711.3 174.5,711.3" fill="none" stroke="#6a6a6a" stroke-width="1.2" stroke-dasharray="8.5,2.6"/>
<polyline points="174.5,710.7 258.9,710.7" fill="none" stroke="#6a6a6a" stroke-width="1.2" stroke-dasharray="8.5,2.6"/>
<polyline points="258.9,708.4 343.3,708.4" fill="none" stroke="#6a6a6a" stroke-width="1.2" stroke-dasharray="8.5,2.6"/>
<polyline points="343.3,699.3 427.7,699.3" fill="none" stroke="#6a6a6a" stroke-width="1.3" stroke-dasharray="8.5,2.6"/>
<polyline points="427.7,692 470.02,692" fill="none" stroke="#6a6a6a" stroke-width="1.2" stroke-dasharray="8.5,2.6"/>
<polyline points="470.02,690.4 512.34,690.4" fill="none" stroke="#6a6a6a" stroke-width="1.2" stroke-dasharray="8.5,2.6"/>
<polyline points="554.66,689.6 596.98,689.6" fill="none" stroke="#6a6a6a" stroke-width="1.2" stroke-dasharray="8.5,2.6"/>
<polyline points="596.98,702.1 640.3,702.1" fill="none" stroke="#6a6a6a" stroke-width="1.2" stroke-dasharray="8.5,2.6"/>
<text x="639.3" y="679.3" font-size="10.2" text-anchor="start" fill="#111" >‰VPDB</text>
<line x1="642.3" y1="685.3" x2="642.3" y2="713" stroke="#222" stroke-width="1.1" />
<line x1="642.3" y1="685.6" x2="645.6" y2="685.6" stroke="#222" stroke-width="1" />
<line x1="642.3" y1="698.9" x2="645.6" y2="698.9" stroke="#222" stroke-width="1" />
<line x1="642.3" y1="712.7" x2="645.6" y2="712.7" stroke="#222" stroke-width="1" />
<line x1="642.3" y1="692.2" x2="644.6" y2="692.2" stroke="#222" stroke-width="1" />
<line x1="642.3" y1="705.8" x2="644.6" y2="705.8" stroke="#222" stroke-width="1" />
<text x="648.8" y="688.6" font-size="9.8" text-anchor="start" fill="#111" >-20.0</text>
<text x="648.8" y="701.9" font-size="9.8" text-anchor="start" fill="#111" >-25.0</text>
<text x="648.8" y="715.7" font-size="9.8" text-anchor="start" fill="#111" >-30.0</text>
<text x="94" y="728.2" font-size="10.7" text-anchor="start" fill="#111" >Mass flux (trap)</text>
<line x1="40.7" y1="722.5" x2="40.7" y2="743.5" stroke="#222" stroke-width="1.1" />
<line x1="40.7" y1="723" x2="35.5" y2="723" stroke="#222" stroke-width="1" />
<line x1="40.7" y1="733" x2="35.5" y2="733" stroke="#222" stroke-width="1" />
<line x1="40.7" y1="743" x2="35.5" y2="743" stroke="#222" stroke-width="1" />
<line x1="40.7" y1="728" x2="37.6" y2="728" stroke="#222" stroke-width="1" />
<line x1="40.7" y1="738" x2="37.6" y2="738" stroke="#222" stroke-width="1" />
<text x="32.6" y="726.6" font-size="10.3" text-anchor="end" fill="#111" >150</text>
<text x="32.6" y="736.6" font-size="10.3" text-anchor="end" fill="#111" >75</text>
<text x="32.6" y="746.6" font-size="10.3" text-anchor="end" fill="#111" >0</text>
<polygon points="48.4,743 48.4,739.7 90.1,739.7 90.1,737.7 258.9,737.7 258.9,736.6 427.7,736.6 427.7,739 470.02,739 470.02,738 512.34,738 512.34,743" fill="#a7a9ac" stroke="#222" stroke-width="1.0" />
<polygon points="554.66,743 554.66,724.7 596.98,724.7 596.98,729.5 640.1,729.5 640.1,743" fill="#a7a9ac" stroke="#222" stroke-width="1.0" />
<line x1="48.4" y1="743" x2="640.1" y2="743" stroke="#111" stroke-width="1.2" />
<text x="533.7" y="634" font-size="10.3" text-anchor="middle" fill="#111" >N/A</text>
<line x1="533.7" y1="523.6" x2="533.7" y2="608.3" stroke="#111" stroke-width="1.1" />
<polyline points="529.6,528.6 533.7,523.4 537.8,528.6" fill="none" stroke="#111" stroke-width="1.1" />
<line x1="533.7" y1="653.8" x2="533.7" y2="731.4" stroke="#111" stroke-width="1.1" />
<polyline points="529.6,726.4 533.7,731.6 537.8,726.4" fill="none" stroke="#111" stroke-width="1.1" />
<text transform="translate(9.4,527.2) rotate(-90)" font-size="10.2" text-anchor="middle" fill="#111">valves<tspan fill="#777">×</tspan>10<tspan dy="-4" font-size="5.4">-5</tspan><tspan dy="4" font-size="1"> </tspan>m<tspan dy="-4" font-size="5.4">-2</tspan><tspan dy="4" font-size="1"> </tspan>d<tspan dy="-4" font-size="5.4">-1</tspan><tspan dy="4" font-size="1"> </tspan></text>
<polyline points="14.6,574.3 5.4,574.3 5.4,595.4" fill="none" stroke="#666" stroke-width="1.1" />
<text transform="translate(9.4,620.6) rotate(-90)" font-size="10.2" text-anchor="middle" fill="#111">ng m<tspan dy="-4" font-size="5.4">-2</tspan><tspan dy="4" font-size="1"> </tspan> d<tspan dy="-4" font-size="5.4">-1</tspan><tspan dy="4" font-size="1"> </tspan></text>
<polyline points="5.2,647 5.2,668.6 15,668.6" fill="none" stroke="#666" stroke-width="1.1" />
<polyline points="15,686.2 5.2,686.2 5.2,690.8" fill="none" stroke="#666" stroke-width="1.1" />
<text transform="translate(9.4,713.4) rotate(-90)" font-size="10.2" text-anchor="middle" fill="#111">mg m<tspan dy="-4" font-size="5.4">-2</tspan><tspan dy="4" font-size="1"> </tspan> d<tspan dy="-4" font-size="5.4">-1</tspan><tspan dy="4" font-size="1"> </tspan></text>
<polyline points="5.2,738.3 5.2,743.2 15,743.2" fill="none" stroke="#666" stroke-width="1.1" />
<line x1="41.67" y1="757" x2="639.8" y2="757" stroke="#222" stroke-width="1.1" />
<line x1="42.17" y1="757" x2="42.17" y2="762.8" stroke="#222" stroke-width="1.0" />
<line x1="47.5" y1="757" x2="47.5" y2="762.8" stroke="#222" stroke-width="1.0" />
<line x1="52.83" y1="757" x2="52.83" y2="760.6" stroke="#222" stroke-width="1.0" />
<line x1="58.15" y1="757" x2="58.15" y2="762.8" stroke="#222" stroke-width="1.0" />
<line x1="63.48" y1="757" x2="63.48" y2="760.6" stroke="#222" stroke-width="1.0" />
<line x1="68.8" y1="757" x2="68.8" y2="762.8" stroke="#222" stroke-width="1.0" />
<line x1="74.12" y1="757" x2="74.12" y2="760.6" stroke="#222" stroke-width="1.0" />
<line x1="79.45" y1="757" x2="79.45" y2="762.8" stroke="#222" stroke-width="1.0" />
<line x1="84.78" y1="757" x2="84.78" y2="760.6" stroke="#222" stroke-width="1.0" />
<line x1="90.1" y1="757" x2="90.1" y2="762.8" stroke="#222" stroke-width="1.0" />
<line x1="100.65" y1="757" x2="100.65" y2="760.6" stroke="#222" stroke-width="1.0" />
<line x1="111.2" y1="757" x2="111.2" y2="762.8" stroke="#222" stroke-width="1.0" />
<line x1="121.75" y1="757" x2="121.75" y2="760.6" stroke="#222" stroke-width="1.0" />
<line x1="132.3" y1="757" x2="132.3" y2="762.8" stroke="#222" stroke-width="1.0" />
<line x1="142.85" y1="757" x2="142.85" y2="760.6" stroke="#222" stroke-width="1.0" />
<line x1="153.4" y1="757" x2="153.4" y2="762.8" stroke="#222" stroke-width="1.0" />
<line x1="163.95" y1="757" x2="163.95" y2="760.6" stroke="#222" stroke-width="1.0" />
<line x1="174.5" y1="757" x2="174.5" y2="762.8" stroke="#222" stroke-width="1.0" />
<line x1="185.05" y1="757" x2="185.05" y2="760.6" stroke="#222" stroke-width="1.0" />
<line x1="195.6" y1="757" x2="195.6" y2="762.8" stroke="#222" stroke-width="1.0" />
<line x1="206.15" y1="757" x2="206.15" y2="760.6" stroke="#222" stroke-width="1.0" />
<line x1="216.7" y1="757" x2="216.7" y2="762.8" stroke="#222" stroke-width="1.0" />
<line x1="227.25" y1="757" x2="227.25" y2="760.6" stroke="#222" stroke-width="1.0" />
<line x1="237.8" y1="757" x2="237.8" y2="762.8" stroke="#222" stroke-width="1.0" />
<line x1="248.35" y1="757" x2="248.35" y2="760.6" stroke="#222" stroke-width="1.0" />
<line x1="258.9" y1="757" x2="258.9" y2="762.8" stroke="#222" stroke-width="1.0" />
<line x1="269.45" y1="757" x2="269.45" y2="760.6" stroke="#222" stroke-width="1.0" />
<line x1="280" y1="757" x2="280" y2="762.8" stroke="#222" stroke-width="1.0" />
<line x1="290.55" y1="757" x2="290.55" y2="760.6" stroke="#222" stroke-width="1.0" />
<line x1="301.1" y1="757" x2="301.1" y2="762.8" stroke="#222" stroke-width="1.0" />
<line x1="311.65" y1="757" x2="311.65" y2="760.6" stroke="#222" stroke-width="1.0" />
<line x1="322.2" y1="757" x2="322.2" y2="762.8" stroke="#222" stroke-width="1.0" />
<line x1="332.75" y1="757" x2="332.75" y2="760.6" stroke="#222" stroke-width="1.0" />
<line x1="343.3" y1="757" x2="343.3" y2="762.8" stroke="#222" stroke-width="1.0" />
<line x1="353.85" y1="757" x2="353.85" y2="760.6" stroke="#222" stroke-width="1.0" />
<line x1="364.4" y1="757" x2="364.4" y2="762.8" stroke="#222" stroke-width="1.0" />
<line x1="374.95" y1="757" x2="374.95" y2="760.6" stroke="#222" stroke-width="1.0" />
<line x1="385.5" y1="757" x2="385.5" y2="762.8" stroke="#222" stroke-width="1.0" />
<line x1="396.05" y1="757" x2="396.05" y2="760.6" stroke="#222" stroke-width="1.0" />
<line x1="406.6" y1="757" x2="406.6" y2="762.8" stroke="#222" stroke-width="1.0" />
<line x1="417.15" y1="757" x2="417.15" y2="760.6" stroke="#222" stroke-width="1.0" />
<line x1="427.7" y1="757" x2="427.7" y2="762.8" stroke="#222" stroke-width="1.0" />
<line x1="432.99" y1="757" x2="432.99" y2="760.6" stroke="#222" stroke-width="1.0" />
<line x1="438.28" y1="757" x2="438.28" y2="760.6" stroke="#222" stroke-width="1.0" />
<line x1="443.57" y1="757" x2="443.57" y2="760.6" stroke="#222" stroke-width="1.0" />
<line x1="448.86" y1="757" x2="448.86" y2="762.8" stroke="#222" stroke-width="1.0" />
<line x1="454.15" y1="757" x2="454.15" y2="760.6" stroke="#222" stroke-width="1.0" />
<line x1="459.44" y1="757" x2="459.44" y2="760.6" stroke="#222" stroke-width="1.0" />
<line x1="464.73" y1="757" x2="464.73" y2="760.6" stroke="#222" stroke-width="1.0" />
<line x1="470.02" y1="757" x2="470.02" y2="762.8" stroke="#222" stroke-width="1.0" />
<line x1="475.31" y1="757" x2="475.31" y2="760.6" stroke="#222" stroke-width="1.0" />
<line x1="480.6" y1="757" x2="480.6" y2="760.6" stroke="#222" stroke-width="1.0" />
<line x1="485.89" y1="757" x2="485.89" y2="760.6" stroke="#222" stroke-width="1.0" />
<line x1="491.18" y1="757" x2="491.18" y2="762.8" stroke="#222" stroke-width="1.0" />
<line x1="496.47" y1="757" x2="496.47" y2="760.6" stroke="#222" stroke-width="1.0" />
<line x1="501.76" y1="757" x2="501.76" y2="760.6" stroke="#222" stroke-width="1.0" />
<line x1="507.05" y1="757" x2="507.05" y2="760.6" stroke="#222" stroke-width="1.0" />
<line x1="512.34" y1="757" x2="512.34" y2="762.8" stroke="#222" stroke-width="1.0" />
<line x1="517.63" y1="757" x2="517.63" y2="760.6" stroke="#222" stroke-width="1.0" />
<line x1="522.92" y1="757" x2="522.92" y2="760.6" stroke="#222" stroke-width="1.0" />
<line x1="528.21" y1="757" x2="528.21" y2="760.6" stroke="#222" stroke-width="1.0" />
<line x1="533.5" y1="757" x2="533.5" y2="762.8" stroke="#222" stroke-width="1.0" />
<line x1="538.79" y1="757" x2="538.79" y2="760.6" stroke="#222" stroke-width="1.0" />
<line x1="544.08" y1="757" x2="544.08" y2="760.6" stroke="#222" stroke-width="1.0" />
<line x1="549.37" y1="757" x2="549.37" y2="760.6" stroke="#222" stroke-width="1.0" />
<line x1="554.66" y1="757" x2="554.66" y2="762.8" stroke="#222" stroke-width="1.0" />
<line x1="559.95" y1="757" x2="559.95" y2="760.6" stroke="#222" stroke-width="1.0" />
<line x1="565.24" y1="757" x2="565.24" y2="760.6" stroke="#222" stroke-width="1.0" />
<line x1="570.53" y1="757" x2="570.53" y2="760.6" stroke="#222" stroke-width="1.0" />
<line x1="575.82" y1="757" x2="575.82" y2="762.8" stroke="#222" stroke-width="1.0" />
<line x1="581.11" y1="757" x2="581.11" y2="760.6" stroke="#222" stroke-width="1.0" />
<line x1="586.4" y1="757" x2="586.4" y2="760.6" stroke="#222" stroke-width="1.0" />
<line x1="591.69" y1="757" x2="591.69" y2="760.6" stroke="#222" stroke-width="1.0" />
<line x1="596.98" y1="757" x2="596.98" y2="762.8" stroke="#222" stroke-width="1.0" />
<line x1="602.27" y1="757" x2="602.27" y2="760.6" stroke="#222" stroke-width="1.0" />
<line x1="607.56" y1="757" x2="607.56" y2="760.6" stroke="#222" stroke-width="1.0" />
<line x1="612.85" y1="757" x2="612.85" y2="760.6" stroke="#222" stroke-width="1.0" />
<line x1="618.14" y1="757" x2="618.14" y2="762.8" stroke="#222" stroke-width="1.0" />
<line x1="623.43" y1="757" x2="623.43" y2="760.6" stroke="#222" stroke-width="1.0" />
<line x1="628.72" y1="757" x2="628.72" y2="760.6" stroke="#222" stroke-width="1.0" />
<line x1="634.01" y1="757" x2="634.01" y2="760.6" stroke="#222" stroke-width="1.0" />
<line x1="639.3" y1="757" x2="639.3" y2="762.8" stroke="#222" stroke-width="1.0" />
<text transform="translate(54.8,769.3) rotate(-50)" font-size="10.1" text-anchor="end" fill="#111">April 16</text>
<text transform="translate(76.1,769.3) rotate(-50)" font-size="10.1" text-anchor="end" fill="#111">April 20</text>
<text transform="translate(97.4,769.3) rotate(-50)" font-size="10.1" text-anchor="end" fill="#111">April 24</text>
<text transform="translate(118.5,769.3) rotate(-50)" font-size="10.1" text-anchor="end" fill="#111">April 26</text>
<text transform="translate(139.6,769.3) rotate(-50)" font-size="10.1" text-anchor="end" fill="#111">April 28</text>
<text transform="translate(160.7,769.3) rotate(-50)" font-size="10.1" text-anchor="end" fill="#111">April 30</text>
<text transform="translate(181.8,769.3) rotate(-50)" font-size="10.1" text-anchor="end" fill="#111">May 2</text>
<text transform="translate(202.9,769.3) rotate(-50)" font-size="10.1" text-anchor="end" fill="#111">May 4</text>
<text transform="translate(224,769.3) rotate(-50)" font-size="10.1" text-anchor="end" fill="#111">May 6</text>
<text transform="translate(245.1,769.3) rotate(-50)" font-size="10.1" text-anchor="end" fill="#111">May 8</text>
<text transform="translate(266.2,769.3) rotate(-50)" font-size="10.1" text-anchor="end" fill="#111">May 10</text>
<text transform="translate(287.3,769.3) rotate(-50)" font-size="10.1" text-anchor="end" fill="#111">May 12</text>
<text transform="translate(308.4,769.3) rotate(-50)" font-size="10.1" text-anchor="end" fill="#111">May 14</text>
<text transform="translate(329.5,769.3) rotate(-50)" font-size="10.1" text-anchor="end" fill="#111">May 16</text>
<text transform="translate(350.6,769.3) rotate(-50)" font-size="10.1" text-anchor="end" fill="#111">May 18</text>
<text transform="translate(371.7,769.3) rotate(-50)" font-size="10.1" text-anchor="end" fill="#111">May 20</text>
<text transform="translate(392.8,769.3) rotate(-50)" font-size="10.1" text-anchor="end" fill="#111">May 22</text>
<text transform="translate(413.9,769.3) rotate(-50)" font-size="10.1" text-anchor="end" fill="#111">May 24</text>
<text transform="translate(435,769.3) rotate(-50)" font-size="10.1" text-anchor="end" fill="#111">May 26</text>
<text transform="translate(456.16,769.3) rotate(-50)" font-size="10.1" text-anchor="end" fill="#111">May 30</text>
<text transform="translate(477.32,769.3) rotate(-50)" font-size="10.1" text-anchor="end" fill="#111">June 3</text>
<text transform="translate(498.48,769.3) rotate(-50)" font-size="10.1" text-anchor="end" fill="#111">June 7</text>
<text transform="translate(519.64,769.3) rotate(-50)" font-size="10.1" text-anchor="end" fill="#111">June 11</text>
<text transform="translate(540.8,769.3) rotate(-50)" font-size="10.1" text-anchor="end" fill="#111">June 15</text>
<text transform="translate(561.96,769.3) rotate(-50)" font-size="10.1" text-anchor="end" fill="#111">June 19</text>
<text transform="translate(583.12,769.3) rotate(-50)" font-size="10.1" text-anchor="end" fill="#111">June 23</text>
<text transform="translate(604.28,769.3) rotate(-50)" font-size="10.1" text-anchor="end" fill="#111">June 27</text>
<text transform="translate(625.44,769.3) rotate(-50)" font-size="10.1" text-anchor="end" fill="#111">July 1</text>
<text transform="translate(646.6,769.3) rotate(-50)" font-size="10.1" text-anchor="end" fill="#111">July 5</text>
</svg>
</body></html>
